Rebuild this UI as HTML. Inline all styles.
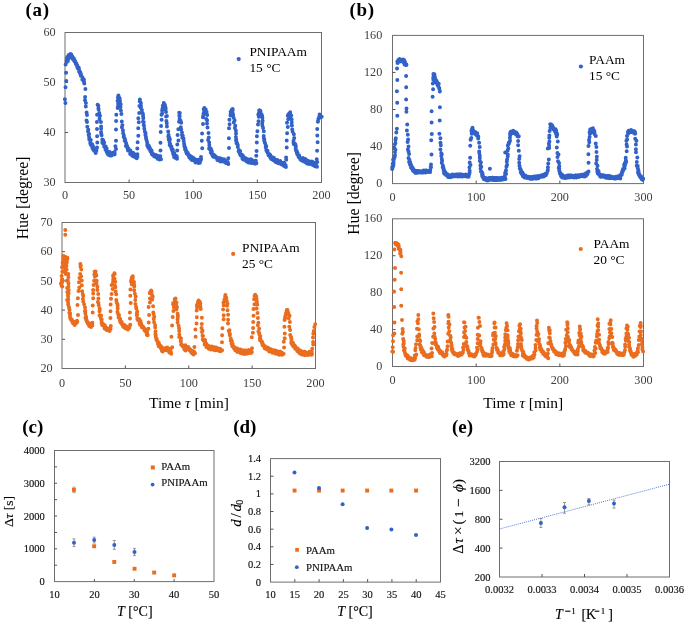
<!DOCTYPE html>
<html><head><meta charset="utf-8"><style>
html,body{margin:0;padding:0;background:#fff;}
svg{display:block;font-family:"Liberation Serif",serif;will-change:transform;}
text{stroke-width:0;}
.b text{stroke-width:0.15px;}
</style></head><body>
<svg width="685" height="624" viewBox="0 0 685 624">
<rect width="685" height="624" fill="#fff"/>
<rect x="65.00" y="32.50" width="256.50" height="150.00" fill="none" stroke="#6e6e6e" stroke-width="1.00"/>
<line x1="65.00" y1="82.50" x2="68.00" y2="82.50" stroke="#555" stroke-width="1.00"/>
<line x1="65.00" y1="132.50" x2="68.00" y2="132.50" stroke="#555" stroke-width="1.00"/>
<line x1="129.12" y1="182.50" x2="129.12" y2="179.50" stroke="#555" stroke-width="1.00"/>
<line x1="193.25" y1="182.50" x2="193.25" y2="179.50" stroke="#555" stroke-width="1.00"/>
<line x1="257.38" y1="182.50" x2="257.38" y2="179.50" stroke="#555" stroke-width="1.00"/>
<text x="55.6" y="36.1" font-size="12.2" text-anchor="end" fill="#404040" stroke="none" >60</text>
<text x="55.6" y="86.1" font-size="12.2" text-anchor="end" fill="#404040" stroke="none" >50</text>
<text x="55.6" y="136.1" font-size="12.2" text-anchor="end" fill="#404040" stroke="none" >40</text>
<text x="55.6" y="186.1" font-size="12.2" text-anchor="end" fill="#404040" stroke="none" >30</text>
<text x="65.0" y="199.3" font-size="12.2" text-anchor="middle" fill="#404040" stroke="none" >0</text>
<text x="129.1" y="199.3" font-size="12.2" text-anchor="middle" fill="#404040" stroke="none" >50</text>
<text x="193.2" y="199.3" font-size="12.2" text-anchor="middle" fill="#404040" stroke="none" >100</text>
<text x="257.4" y="199.3" font-size="12.2" text-anchor="middle" fill="#404040" stroke="none" >150</text>
<text x="321.5" y="199.3" font-size="12.2" text-anchor="middle" fill="#404040" stroke="none" >200</text>
<rect x="62.00" y="222.50" width="253.50" height="146.00" fill="none" stroke="#6e6e6e" stroke-width="1.00"/>
<line x1="62.00" y1="251.70" x2="65.00" y2="251.70" stroke="#555" stroke-width="1.00"/>
<line x1="62.00" y1="280.90" x2="65.00" y2="280.90" stroke="#555" stroke-width="1.00"/>
<line x1="62.00" y1="310.10" x2="65.00" y2="310.10" stroke="#555" stroke-width="1.00"/>
<line x1="62.00" y1="339.30" x2="65.00" y2="339.30" stroke="#555" stroke-width="1.00"/>
<line x1="125.38" y1="368.50" x2="125.38" y2="365.50" stroke="#555" stroke-width="1.00"/>
<line x1="188.75" y1="368.50" x2="188.75" y2="365.50" stroke="#555" stroke-width="1.00"/>
<line x1="252.12" y1="368.50" x2="252.12" y2="365.50" stroke="#555" stroke-width="1.00"/>
<text x="52.6" y="226.1" font-size="12.2" text-anchor="end" fill="#404040" stroke="none" >70</text>
<text x="52.6" y="255.3" font-size="12.2" text-anchor="end" fill="#404040" stroke="none" >60</text>
<text x="52.6" y="284.5" font-size="12.2" text-anchor="end" fill="#404040" stroke="none" >50</text>
<text x="52.6" y="313.7" font-size="12.2" text-anchor="end" fill="#404040" stroke="none" >40</text>
<text x="52.6" y="342.9" font-size="12.2" text-anchor="end" fill="#404040" stroke="none" >30</text>
<text x="52.6" y="372.1" font-size="12.2" text-anchor="end" fill="#404040" stroke="none" >20</text>
<text x="62.0" y="386.6" font-size="12.2" text-anchor="middle" fill="#404040" stroke="none" >0</text>
<text x="125.4" y="386.6" font-size="12.2" text-anchor="middle" fill="#404040" stroke="none" >50</text>
<text x="188.8" y="386.6" font-size="12.2" text-anchor="middle" fill="#404040" stroke="none" >100</text>
<text x="252.1" y="386.6" font-size="12.2" text-anchor="middle" fill="#404040" stroke="none" >150</text>
<text x="315.5" y="386.6" font-size="12.2" text-anchor="middle" fill="#404040" stroke="none" >200</text>
<rect x="392.50" y="35.40" width="251.00" height="148.20" fill="none" stroke="#6e6e6e" stroke-width="1.00"/>
<line x1="392.50" y1="72.45" x2="395.50" y2="72.45" stroke="#555" stroke-width="1.00"/>
<line x1="392.50" y1="109.50" x2="395.50" y2="109.50" stroke="#555" stroke-width="1.00"/>
<line x1="392.50" y1="146.55" x2="395.50" y2="146.55" stroke="#555" stroke-width="1.00"/>
<line x1="476.17" y1="183.60" x2="476.17" y2="180.60" stroke="#555" stroke-width="1.00"/>
<line x1="559.83" y1="183.60" x2="559.83" y2="180.60" stroke="#555" stroke-width="1.00"/>
<text x="382.3" y="39.0" font-size="12.2" text-anchor="end" fill="#404040" stroke="none" >160</text>
<text x="382.3" y="76.0" font-size="12.2" text-anchor="end" fill="#404040" stroke="none" >120</text>
<text x="382.3" y="113.1" font-size="12.2" text-anchor="end" fill="#404040" stroke="none" >80</text>
<text x="382.3" y="150.1" font-size="12.2" text-anchor="end" fill="#404040" stroke="none" >40</text>
<text x="382.3" y="187.2" font-size="12.2" text-anchor="end" fill="#404040" stroke="none" >0</text>
<text x="392.5" y="201.0" font-size="12.2" text-anchor="middle" fill="#404040" stroke="none" >0</text>
<text x="476.2" y="201.0" font-size="12.2" text-anchor="middle" fill="#404040" stroke="none" >100</text>
<text x="559.8" y="201.0" font-size="12.2" text-anchor="middle" fill="#404040" stroke="none" >200</text>
<text x="643.5" y="201.0" font-size="12.2" text-anchor="middle" fill="#404040" stroke="none" >300</text>
<rect x="392.50" y="218.80" width="251.00" height="147.70" fill="none" stroke="#6e6e6e" stroke-width="1.00"/>
<line x1="392.50" y1="255.73" x2="395.50" y2="255.73" stroke="#555" stroke-width="1.00"/>
<line x1="392.50" y1="292.65" x2="395.50" y2="292.65" stroke="#555" stroke-width="1.00"/>
<line x1="392.50" y1="329.57" x2="395.50" y2="329.57" stroke="#555" stroke-width="1.00"/>
<line x1="476.17" y1="366.50" x2="476.17" y2="363.50" stroke="#555" stroke-width="1.00"/>
<line x1="559.83" y1="366.50" x2="559.83" y2="363.50" stroke="#555" stroke-width="1.00"/>
<text x="382.3" y="222.4" font-size="12.2" text-anchor="end" fill="#404040" stroke="none" >160</text>
<text x="382.3" y="259.3" font-size="12.2" text-anchor="end" fill="#404040" stroke="none" >120</text>
<text x="382.3" y="296.2" font-size="12.2" text-anchor="end" fill="#404040" stroke="none" >80</text>
<text x="382.3" y="333.2" font-size="12.2" text-anchor="end" fill="#404040" stroke="none" >40</text>
<text x="382.3" y="370.1" font-size="12.2" text-anchor="end" fill="#404040" stroke="none" >0</text>
<text x="392.5" y="384.0" font-size="12.2" text-anchor="middle" fill="#404040" stroke="none" >0</text>
<text x="476.2" y="384.0" font-size="12.2" text-anchor="middle" fill="#404040" stroke="none" >100</text>
<text x="559.8" y="384.0" font-size="12.2" text-anchor="middle" fill="#404040" stroke="none" >200</text>
<text x="643.5" y="384.0" font-size="12.2" text-anchor="middle" fill="#404040" stroke="none" >300</text>
<path d="M65.4 103.0h0M64.9 99.2h0M65.5 87.2h0M66.3 80.9h0M66.1 72.8h0M65.6 64.6h0M66.8 62.1h0M66.7 60.1h0M66.7 61.2h0M67.9 61.0h0M67.0 57.7h0M68.6 58.2h0M67.9 57.0h0M68.0 56.3h0M68.8 55.1h0M68.8 55.9h0M69.1 54.9h0M69.5 55.5h0M70.5 53.9h0M70.6 55.9h0M71.3 54.6h0M70.5 57.1h0M71.6 55.5h0M72.1 57.0h0M72.3 56.6h0M71.9 57.7h0M73.0 57.9h0M72.8 59.1h0M72.5 58.8h0M73.8 58.2h0M73.2 59.1h0M74.2 59.9h0M74.1 60.7h0M74.6 60.4h0M74.9 61.8h0M75.2 61.4h0M74.9 61.0h0M76.4 63.6h0M75.9 63.9h0M76.4 63.4h0M77.0 66.3h0M77.4 65.8h0M77.3 65.6h0M77.7 68.3h0M77.6 67.6h0M78.8 68.5h0M78.8 67.7h0M79.3 70.6h0M79.5 71.1h0M79.5 71.2h0M79.1 71.6h0M80.1 73.5h0M80.3 72.3h0M80.4 73.8h0M80.9 74.1h0M81.3 75.6h0M80.8 75.8h0M81.3 75.9h0M82.5 77.6h0M82.8 78.9h0M82.3 79.6h0M83.2 80.4h0M82.6 79.0h0M83.9 79.5h0M83.4 80.8h0M84.0 82.4h0M84.0 81.5h0M84.3 83.4h0M85.4 88.9h0M85.1 97.1h0M85.0 100.2h0M85.9 103.0h0M85.8 106.4h0M86.6 112.5h0M87.0 115.0h0M86.5 120.4h0M87.0 122.1h0M87.3 126.7h0M88.3 129.7h0M88.0 131.2h0M89.1 134.1h0M88.6 134.8h0M89.1 136.9h0M89.3 138.1h0M89.3 139.5h0M90.8 140.0h0M90.2 142.7h0M90.5 144.0h0M91.4 145.5h0M91.0 144.7h0M92.2 144.2h0M92.4 144.9h0M92.4 148.0h0M93.1 146.4h0M93.1 149.3h0M93.0 148.6h0M93.1 148.7h0M93.7 150.1h0M93.6 149.0h0M94.1 150.8h0M94.4 150.7h0M95.5 152.1h0M94.9 149.9h0M96.2 151.2h0M95.7 153.0h0M96.4 150.0h0M97.0 147.5h0M97.3 142.4h0M97.1 136.3h0M97.0 129.1h0M96.9 121.9h0M97.1 114.7h0M97.6 104.7h0M98.4 105.8h0M98.4 108.3h0M98.6 109.5h0M99.3 113.1h0M100.0 115.7h0M99.8 116.1h0M99.5 119.0h0M100.9 121.9h0M101.1 126.6h0M101.1 128.6h0M101.1 132.1h0M101.2 134.0h0M101.6 135.2h0M102.3 139.6h0M102.4 141.1h0M103.2 140.3h0M102.4 142.7h0M102.8 143.2h0M104.2 142.6h0M103.6 143.3h0M104.2 146.7h0M104.1 145.3h0M105.2 146.3h0M105.7 146.4h0M106.1 147.7h0M105.5 149.7h0M106.0 148.4h0M106.6 148.4h0M106.0 148.7h0M106.7 151.9h0M107.2 151.3h0M107.0 151.0h0M108.5 153.2h0M107.7 153.9h0M108.6 152.2h0M108.8 154.9h0M109.3 153.9h0M109.4 152.5h0M109.3 152.8h0M109.7 152.1h0M110.2 155.4h0M110.8 154.3h0M110.7 155.4h0M110.9 153.3h0M111.9 153.4h0M111.5 155.6h0M112.1 153.7h0M112.5 154.6h0M112.0 153.3h0M112.4 153.3h0M112.7 154.5h0M113.8 152.6h0M114.3 153.5h0M114.7 154.3h0M114.5 152.9h0M114.2 154.4h0M114.6 152.0h0M116.0 148.9h0M115.4 146.3h0M116.0 140.7h0M116.0 129.4h0M116.1 121.1h0M116.3 114.7h0M117.7 108.1h0M118.0 106.5h0M118.1 103.8h0M117.6 100.8h0M117.9 97.5h0M118.9 97.1h0M118.4 95.5h0M119.7 98.6h0M119.6 98.8h0M119.8 100.9h0M120.0 101.1h0M119.8 102.0h0M120.7 104.3h0M120.5 106.9h0M120.9 110.4h0M121.4 113.9h0M121.8 121.5h0M122.4 125.2h0M121.9 127.2h0M122.9 130.3h0M123.1 133.0h0M123.8 135.2h0M123.8 135.2h0M123.7 137.1h0M124.5 138.1h0M125.2 140.5h0M125.2 140.1h0M124.7 140.8h0M126.1 143.1h0M126.2 143.4h0M125.9 146.0h0M126.9 146.1h0M127.0 145.8h0M127.2 147.4h0M127.9 148.3h0M127.8 149.2h0M127.6 147.6h0M128.4 148.4h0M128.0 150.5h0M129.2 150.8h0M129.2 150.5h0M129.8 150.6h0M130.4 150.5h0M130.2 153.2h0M130.9 151.7h0M130.2 154.1h0M131.4 153.7h0M131.5 153.6h0M132.1 153.1h0M131.7 155.0h0M132.1 154.7h0M132.2 152.9h0M133.3 153.0h0M132.6 155.9h0M133.3 155.0h0M133.4 153.6h0M134.3 154.3h0M133.9 153.7h0M133.9 155.4h0M135.0 156.1h0M134.8 157.0h0M135.5 155.3h0M135.9 155.4h0M136.3 155.5h0M136.8 157.4h0M136.7 158.2h0M137.4 156.7h0M137.4 154.3h0M137.3 148.6h0M137.6 142.2h0M138.3 135.8h0M138.2 128.2h0M138.8 122.3h0M138.3 118.3h0M139.2 113.1h0M139.4 105.9h0M139.7 101.3h0M139.9 99.4h0M140.0 101.5h0M140.9 103.1h0M140.9 105.6h0M141.0 107.3h0M140.8 107.9h0M141.9 109.9h0M142.5 113.1h0M143.0 114.3h0M143.1 116.3h0M143.3 118.3h0M143.0 121.8h0M143.7 121.9h0M143.7 124.9h0M144.0 125.7h0M144.3 128.8h0M144.9 131.8h0M145.6 133.3h0M145.4 135.1h0M145.9 136.9h0M146.1 138.4h0M146.4 139.7h0M147.1 142.0h0M147.3 144.2h0M147.6 145.4h0M147.3 145.5h0M148.0 145.0h0M148.1 147.3h0M148.8 145.7h0M148.6 147.2h0M149.0 146.5h0M149.2 149.0h0M149.8 148.4h0M149.9 148.0h0M150.4 151.2h0M150.7 150.1h0M150.4 151.2h0M151.6 150.6h0M150.8 151.3h0M151.7 153.4h0M152.0 152.7h0M151.8 154.0h0M152.9 154.0h0M152.6 154.8h0M152.8 154.4h0M153.0 154.4h0M154.3 155.4h0M153.7 154.2h0M154.6 156.4h0M154.1 156.3h0M155.1 156.7h0M155.2 155.1h0M155.9 156.8h0M156.0 155.2h0M156.8 155.4h0M157.0 156.5h0M156.9 157.6h0M157.1 156.4h0M156.9 156.2h0M157.5 158.3h0M157.6 158.7h0M158.6 158.9h0M158.1 157.3h0M158.9 157.6h0M158.8 156.5h0M159.6 156.3h0M159.4 159.6h0M160.3 156.2h0M161.0 159.3h0M160.5 150.4h0M160.5 142.8h0M160.7 132.1h0M161.1 125.9h0M161.6 119.8h0M161.5 114.8h0M162.1 113.4h0M162.1 110.5h0M162.5 108.4h0M163.6 105.7h0M162.8 105.7h0M164.1 104.6h0M163.8 103.0h0M164.8 104.8h0M165.1 105.4h0M164.4 107.4h0M164.5 108.9h0M165.7 107.9h0M165.6 109.3h0M166.0 111.9h0M166.9 116.0h0M166.1 116.5h0M166.4 121.0h0M166.8 123.3h0M166.9 126.5h0M168.2 131.4h0M168.6 135.0h0M168.3 136.4h0M169.4 137.8h0M168.7 139.4h0M169.9 139.4h0M169.5 142.2h0M170.1 143.8h0M169.7 145.1h0M170.5 146.1h0M171.4 146.6h0M171.4 147.9h0M171.8 149.4h0M172.1 150.1h0M172.7 149.5h0M172.9 149.9h0M173.1 152.6h0M172.4 151.1h0M173.2 153.9h0M174.2 153.3h0M173.9 153.1h0M173.7 154.9h0M174.7 155.3h0M174.1 157.1h0M174.5 156.3h0M174.8 157.5h0M175.5 155.4h0M175.7 157.9h0M176.7 156.3h0M177.0 158.7h0M176.8 157.3h0M177.2 150.4h0M177.3 144.5h0M178.4 140.5h0M177.6 135.1h0M178.3 129.3h0M179.0 121.8h0M179.2 112.7h0M179.8 112.9h0M179.3 115.7h0M179.7 116.2h0M179.6 119.1h0M180.6 120.8h0M181.2 122.8h0M180.8 127.2h0M181.2 129.4h0M182.0 132.4h0M182.0 135.1h0M182.8 135.8h0M182.3 137.7h0M183.5 138.6h0M183.7 141.1h0M184.1 143.7h0M184.3 144.9h0M184.5 146.7h0M184.4 146.0h0M185.3 147.8h0M185.2 149.0h0M185.1 149.5h0M185.8 150.6h0M185.8 149.7h0M186.2 151.9h0M186.0 150.2h0M186.9 152.3h0M186.7 153.5h0M187.7 152.7h0M187.1 152.3h0M187.7 154.3h0M188.0 153.7h0M188.6 155.7h0M188.3 154.8h0M189.4 157.5h0M190.0 155.8h0M189.6 155.4h0M190.4 158.4h0M190.9 156.6h0M191.2 157.8h0M190.9 159.0h0M191.3 158.4h0M192.0 159.4h0M192.3 158.9h0M191.9 159.9h0M192.8 157.4h0M192.8 159.5h0M192.9 158.7h0M193.8 160.1h0M193.1 159.3h0M193.9 160.3h0M194.0 158.4h0M193.9 160.4h0M194.6 159.3h0M195.5 162.0h0M195.5 162.4h0M195.8 160.9h0M196.1 160.8h0M197.0 161.9h0M196.8 160.4h0M196.7 160.1h0M197.4 160.9h0M198.2 161.1h0M198.1 159.7h0M198.5 162.9h0M198.3 161.3h0M199.3 160.7h0M199.3 162.6h0M199.9 162.7h0M199.5 162.5h0M200.4 161.1h0M200.6 160.5h0M200.4 160.4h0M200.4 159.9h0M201.1 159.2h0M201.0 157.0h0M202.2 148.2h0M201.8 140.8h0M202.1 133.4h0M203.0 124.1h0M202.9 117.2h0M203.3 115.5h0M203.6 113.5h0M204.2 112.3h0M203.7 109.2h0M204.1 111.2h0M204.4 108.0h0M205.7 109.4h0M205.7 109.9h0M205.1 111.8h0M206.6 111.9h0M206.3 113.1h0M207.2 115.0h0M206.3 118.9h0M207.1 120.3h0M207.0 123.5h0M207.5 127.6h0M208.5 133.1h0M208.8 137.5h0M208.1 140.1h0M209.2 142.4h0M209.3 145.2h0M209.1 148.4h0M209.4 149.0h0M210.7 148.5h0M210.5 148.7h0M211.3 150.1h0M210.8 152.4h0M211.9 151.8h0M211.3 152.7h0M211.8 154.0h0M211.6 154.0h0M212.8 156.0h0M213.5 156.1h0M213.2 154.4h0M213.8 155.2h0M213.4 156.8h0M214.3 155.3h0M213.9 156.0h0M214.8 155.7h0M215.6 157.2h0M215.4 157.3h0M215.5 156.4h0M216.1 157.1h0M215.8 157.4h0M216.4 158.0h0M216.9 158.2h0M217.6 158.0h0M217.4 160.0h0M217.4 157.8h0M218.2 160.1h0M218.8 160.6h0M218.6 158.9h0M218.4 159.1h0M218.9 158.4h0M219.5 158.3h0M219.9 160.6h0M219.7 160.6h0M220.5 159.0h0M220.6 161.5h0M220.3 158.4h0M221.4 159.6h0M221.2 158.8h0M222.5 161.1h0M222.3 159.9h0M221.8 160.6h0M222.3 160.0h0M223.4 159.8h0M222.8 161.4h0M224.0 159.3h0M223.7 159.5h0M223.7 160.2h0M224.1 159.4h0M225.4 160.8h0M224.8 161.7h0M225.2 162.0h0M225.5 161.4h0M225.9 163.1h0M226.6 162.6h0M226.8 162.9h0M226.8 163.0h0M227.4 162.4h0M227.7 162.1h0M227.7 162.5h0M228.3 163.9h0M227.9 163.1h0M228.3 158.3h0M229.0 148.0h0M228.9 138.2h0M229.0 128.3h0M229.6 124.2h0M229.4 119.8h0M230.5 115.6h0M230.6 114.4h0M231.2 113.7h0M230.6 111.8h0M231.7 110.0h0M232.3 109.3h0M232.6 109.1h0M232.8 109.7h0M232.5 112.4h0M232.5 113.6h0M233.1 114.6h0M233.1 114.9h0M233.6 117.7h0M234.6 120.2h0M233.8 122.5h0M235.3 125.7h0M234.9 128.0h0M235.9 130.8h0M236.0 133.6h0M235.9 136.9h0M236.2 139.4h0M236.0 140.1h0M236.3 141.2h0M236.5 143.3h0M237.0 143.1h0M237.8 144.9h0M237.8 146.9h0M238.9 150.0h0M239.1 150.2h0M238.6 151.2h0M238.9 151.8h0M239.4 151.7h0M240.2 151.2h0M239.9 153.9h0M240.3 154.4h0M241.4 154.4h0M240.5 155.3h0M241.2 154.9h0M242.1 155.1h0M242.2 156.2h0M242.3 157.3h0M242.8 155.6h0M242.4 158.6h0M243.2 158.0h0M243.8 157.2h0M243.1 159.5h0M243.9 159.5h0M243.9 159.5h0M244.1 159.3h0M245.6 158.3h0M245.6 159.6h0M245.5 159.2h0M246.2 159.5h0M245.8 160.5h0M246.5 159.8h0M247.3 160.5h0M246.6 161.5h0M246.9 160.1h0M247.1 158.9h0M248.3 159.5h0M248.7 161.3h0M248.1 160.0h0M249.3 162.6h0M248.5 162.5h0M249.6 160.5h0M250.3 161.8h0M249.9 161.2h0M250.8 159.2h0M251.2 162.9h0M250.8 161.8h0M251.6 160.2h0M252.2 162.9h0M252.0 160.1h0M252.1 161.4h0M253.0 162.5h0M253.0 162.3h0M253.3 162.2h0M253.0 161.7h0M253.2 162.6h0M253.8 162.2h0M254.5 161.9h0M255.2 161.7h0M254.2 161.2h0M254.9 163.7h0M255.4 161.9h0M256.4 163.2h0M255.8 160.7h0M256.3 155.8h0M256.6 150.9h0M256.8 142.6h0M256.9 136.3h0M257.4 131.3h0M258.0 124.6h0M258.5 121.2h0M258.8 116.8h0M258.3 114.6h0M258.9 112.9h0M259.3 111.4h0M259.2 110.6h0M259.6 110.6h0M260.3 111.8h0M260.5 110.9h0M261.0 113.8h0M261.0 114.2h0M261.6 114.5h0M262.2 115.9h0M262.4 118.0h0M262.6 120.9h0M262.2 123.5h0M262.4 125.8h0M263.1 128.1h0M263.8 131.2h0M263.7 135.9h0M263.8 138.2h0M264.3 139.3h0M264.2 140.4h0M264.7 142.6h0M265.1 143.2h0M265.8 145.6h0M266.3 146.6h0M265.7 147.2h0M266.3 150.1h0M267.5 150.8h0M266.6 150.9h0M267.6 152.1h0M267.4 151.0h0M267.6 152.4h0M268.6 154.1h0M268.5 154.4h0M268.5 155.3h0M268.9 155.3h0M269.1 153.9h0M270.2 155.1h0M270.1 156.2h0M270.2 157.3h0M271.0 157.6h0M271.1 158.7h0M272.0 158.7h0M271.6 158.7h0M271.4 157.3h0M271.8 159.3h0M272.5 158.7h0M272.5 157.3h0M273.2 160.0h0M274.0 160.5h0M274.0 158.1h0M274.0 158.2h0M275.0 159.7h0M274.3 160.4h0M275.0 160.3h0M275.1 159.6h0M276.2 162.0h0M275.3 161.7h0M276.1 162.3h0M276.0 162.1h0M277.3 159.9h0M276.5 160.4h0M278.0 161.3h0M277.5 162.6h0M278.4 163.2h0M278.5 162.8h0M279.1 161.4h0M279.4 161.8h0M279.7 162.2h0M279.4 162.0h0M279.5 162.5h0M280.2 161.1h0M280.1 163.6h0M281.1 163.8h0M280.9 163.6h0M281.7 164.5h0M281.1 163.1h0M281.2 163.2h0M282.0 164.4h0M282.5 162.9h0M282.9 164.0h0M283.2 163.7h0M283.3 165.1h0M284.1 164.1h0M283.5 162.7h0M283.9 164.0h0M284.1 166.0h0M284.6 163.7h0M285.6 165.2h0M285.9 167.0h0M285.2 165.1h0M286.2 159.8h0M286.1 157.6h0M286.7 147.5h0M286.7 140.4h0M287.1 133.2h0M287.8 127.1h0M287.0 122.7h0M288.2 119.2h0M287.8 115.7h0M288.4 114.5h0M288.5 115.0h0M289.7 114.6h0M288.8 114.1h0M290.2 112.3h0M289.5 113.6h0M290.1 113.6h0M290.0 115.4h0M291.2 115.4h0M290.6 117.9h0M291.7 119.5h0M291.7 122.5h0M291.7 125.2h0M291.9 125.5h0M292.2 129.5h0M292.6 131.8h0M293.9 134.3h0M294.2 137.9h0M293.5 140.8h0M293.5 142.7h0M293.9 144.2h0M294.8 143.7h0M295.4 144.4h0M295.8 146.0h0M295.7 147.2h0M295.7 149.0h0M296.1 150.8h0M296.8 151.1h0M296.5 151.2h0M296.9 153.1h0M297.4 154.4h0M297.1 153.7h0M297.6 153.1h0M298.6 155.3h0M298.6 156.9h0M298.8 156.8h0M299.2 155.6h0M300.0 158.0h0M300.3 159.3h0M300.2 158.4h0M300.4 158.4h0M300.9 159.1h0M301.0 159.9h0M301.8 158.7h0M301.7 159.6h0M302.4 159.4h0M302.0 159.7h0M302.7 158.8h0M302.8 158.1h0M302.8 161.1h0M303.7 159.8h0M304.0 161.5h0M303.9 160.7h0M304.6 160.2h0M305.0 160.1h0M305.3 159.1h0M305.0 161.7h0M305.4 159.5h0M306.3 161.5h0M305.8 162.6h0M306.0 160.2h0M307.0 163.4h0M307.3 160.5h0M307.5 163.6h0M308.3 161.1h0M307.6 162.9h0M308.3 163.2h0M308.4 162.6h0M308.8 161.7h0M309.1 162.6h0M308.9 163.9h0M310.4 161.7h0M310.2 163.2h0M310.0 163.4h0M310.3 162.7h0M311.6 161.9h0M311.8 164.1h0M311.8 161.6h0M311.9 162.8h0M311.6 164.2h0M312.5 163.2h0M312.8 165.1h0M313.2 163.2h0M313.1 164.2h0M313.4 164.2h0M313.7 162.4h0M314.3 162.8h0M315.1 164.4h0M315.2 165.4h0M314.9 166.3h0M315.1 164.4h0M315.8 163.6h0M315.6 165.2h0M317.0 166.7h0M316.0 164.0h0M317.3 161.9h0M316.7 159.3h0M317.1 150.7h0M317.6 142.2h0M317.3 135.6h0M317.2 129.1h0M317.9 121.8h0M318.1 121.1h0M318.4 118.7h0M318.7 118.6h0M319.3 116.7h0M319.5 115.8h0M319.6 114.6h0M320.6 116.6h0M320.1 115.1h0M320.3 117.3h0M321.7 116.8h0" stroke="#3261C8" stroke-width="4.00" stroke-linecap="round" fill="none"/>
<path d="M61.6 285.7h0M61.9 279.4h0M61.6 276.0h0M62.3 271.8h0M62.0 267.2h0M62.6 262.4h0M63.7 260.2h0M63.4 260.1h0M63.4 258.0h0M63.3 255.9h0M64.0 257.2h0M65.1 256.7h0M64.9 257.1h0M64.5 259.0h0M65.0 262.4h0M66.4 266.0h0M65.6 272.2h0M66.8 280.7h0M67.2 288.0h0M67.3 292.0h0M67.9 295.1h0M67.1 299.9h0M68.1 302.4h0M68.2 304.7h0M69.0 307.3h0M69.2 308.8h0M69.6 309.9h0M69.3 312.8h0M70.2 313.5h0M69.9 315.4h0M70.0 315.6h0M70.1 317.7h0M70.6 318.9h0M70.9 319.5h0M71.7 320.2h0M71.8 319.5h0M72.2 320.5h0M72.0 320.2h0M73.2 321.4h0M72.4 322.1h0M73.6 323.0h0M73.2 323.6h0M73.3 323.4h0M73.9 323.4h0M75.0 322.4h0M74.8 322.3h0M74.7 325.0h0M75.9 323.1h0M75.9 323.6h0M75.8 322.1h0M76.5 322.4h0M77.2 321.9h0M77.2 321.5h0M76.8 321.3h0M77.0 320.8h0M78.0 315.0h0M77.5 305.0h0M77.9 298.3h0M78.5 291.1h0M79.3 287.4h0M79.0 282.3h0M79.5 278.1h0M80.2 274.0h0M80.5 266.8h0M80.7 265.5h0M80.4 263.9h0M80.8 265.9h0M81.3 269.5h0M81.2 276.2h0M81.8 280.4h0M81.8 285.3h0M82.2 291.3h0M82.8 294.2h0M83.2 295.8h0M82.9 299.1h0M83.3 301.8h0M84.2 304.5h0M85.0 307.6h0M85.3 310.8h0M84.9 311.3h0M85.4 313.4h0M86.0 316.5h0M85.5 317.9h0M86.2 318.1h0M85.8 317.9h0M86.2 319.8h0M86.7 321.6h0M86.9 320.8h0M87.3 322.1h0M87.9 323.7h0M88.4 323.5h0M89.1 323.2h0M89.2 326.0h0M89.2 324.2h0M88.9 324.9h0M89.8 324.4h0M89.5 323.7h0M90.2 326.0h0M91.2 325.1h0M90.7 325.6h0M91.1 327.0h0M91.8 323.6h0M91.6 323.5h0M92.4 325.5h0M92.4 322.7h0M92.7 312.6h0M92.7 305.4h0M93.2 298.2h0M93.2 293.4h0M93.1 289.9h0M93.6 285.1h0M94.1 280.7h0M94.9 276.7h0M94.4 274.5h0M94.6 271.7h0M95.6 271.4h0M96.0 274.4h0M96.3 275.6h0M96.7 280.8h0M96.5 283.5h0M97.4 286.8h0M97.3 290.0h0M98.2 294.0h0M98.4 298.4h0M97.9 302.1h0M98.4 303.0h0M98.7 305.2h0M99.6 308.4h0M99.8 310.3h0M99.5 311.3h0M99.5 315.6h0M99.7 315.3h0M101.1 315.6h0M101.1 319.2h0M100.9 318.2h0M101.7 319.6h0M101.7 322.0h0M101.5 322.8h0M103.0 324.0h0M102.1 325.1h0M103.2 324.8h0M103.8 324.4h0M103.8 325.3h0M104.5 325.5h0M104.3 327.0h0M104.4 325.5h0M104.9 325.5h0M104.6 328.4h0M105.3 327.6h0M105.9 327.7h0M106.2 329.6h0M106.9 328.5h0M106.9 328.0h0M107.2 329.3h0M106.8 330.1h0M107.3 329.3h0M108.4 329.5h0M107.4 329.5h0M108.6 329.0h0M108.9 330.6h0M108.3 330.4h0M109.6 330.9h0M110.1 329.8h0M109.3 330.2h0M110.5 328.9h0M110.8 326.1h0M110.4 318.0h0M110.5 311.3h0M110.6 304.6h0M111.0 298.8h0M111.6 294.1h0M112.6 289.0h0M111.6 284.9h0M113.0 282.1h0M113.2 279.7h0M113.4 278.0h0M113.2 276.3h0M113.1 275.5h0M114.4 273.2h0M114.7 274.0h0M114.5 278.8h0M115.3 281.8h0M114.8 285.6h0M115.4 287.3h0M115.6 291.6h0M116.2 294.2h0M116.3 300.0h0M116.6 302.3h0M117.5 304.2h0M117.6 306.1h0M117.7 308.6h0M117.4 311.8h0M118.0 313.7h0M119.0 315.0h0M118.7 316.1h0M118.6 317.6h0M119.3 318.1h0M120.2 318.9h0M120.2 320.7h0M120.0 320.4h0M120.3 321.9h0M121.6 322.2h0M121.7 322.0h0M121.4 323.1h0M121.3 323.2h0M121.7 324.0h0M122.2 324.2h0M123.3 325.9h0M123.2 324.8h0M123.1 326.6h0M123.3 324.4h0M124.2 324.9h0M124.1 325.8h0M124.2 327.4h0M125.0 327.7h0M125.6 326.4h0M126.0 326.3h0M125.8 328.5h0M126.7 327.8h0M126.7 328.1h0M127.2 328.6h0M127.6 328.4h0M127.4 326.9h0M127.4 328.3h0M127.4 327.5h0M128.0 329.5h0M129.0 328.0h0M129.4 327.1h0M128.4 327.0h0M129.2 327.9h0M130.2 324.7h0M130.0 318.6h0M129.9 312.6h0M130.7 302.9h0M130.3 295.8h0M130.4 289.6h0M131.7 284.3h0M131.0 281.5h0M131.4 279.5h0M131.7 278.1h0M132.0 277.2h0M132.8 276.2h0M132.8 277.9h0M132.7 281.2h0M134.0 281.9h0M134.2 284.9h0M134.2 286.4h0M134.2 290.3h0M134.9 293.7h0M135.7 296.4h0M135.3 300.0h0M135.4 304.1h0M136.1 307.0h0M136.3 308.5h0M137.2 311.6h0M136.8 313.4h0M137.2 314.5h0M136.9 315.5h0M137.3 318.8h0M138.3 319.3h0M137.8 320.0h0M139.1 319.0h0M138.4 318.9h0M138.8 320.5h0M139.8 320.6h0M140.5 321.2h0M139.6 323.4h0M140.1 324.8h0M140.8 324.2h0M141.1 323.6h0M141.0 323.7h0M142.1 326.7h0M142.2 325.9h0M141.8 327.3h0M142.1 326.6h0M142.3 325.9h0M142.6 326.6h0M143.3 327.0h0M144.2 328.6h0M144.3 329.8h0M144.9 329.1h0M144.1 328.5h0M145.1 330.9h0M145.1 329.5h0M145.5 330.3h0M145.7 331.1h0M146.6 332.6h0M146.4 332.4h0M147.1 332.0h0M146.7 334.6h0M147.6 334.4h0M147.0 334.9h0M147.6 335.2h0M148.4 328.8h0M148.7 322.4h0M149.1 315.1h0M148.6 307.0h0M149.9 302.4h0M149.9 298.6h0M149.7 293.1h0M150.5 292.1h0M150.2 292.0h0M151.6 291.8h0M151.2 290.6h0M151.2 291.6h0M152.1 295.3h0M152.7 296.4h0M152.3 299.4h0M153.1 306.3h0M153.3 312.4h0M153.6 314.0h0M154.2 316.7h0M153.7 319.0h0M154.1 322.3h0M155.1 325.2h0M155.2 327.5h0M155.5 331.6h0M155.4 333.9h0M155.7 334.9h0M155.7 336.0h0M156.0 337.8h0M156.8 339.1h0M156.5 340.0h0M157.7 341.8h0M157.7 341.4h0M158.4 343.2h0M157.9 343.8h0M158.9 343.1h0M158.1 344.0h0M158.7 346.2h0M159.1 345.2h0M160.0 345.6h0M159.9 346.2h0M160.7 346.8h0M160.7 345.9h0M160.4 346.6h0M161.0 348.4h0M161.6 347.1h0M162.0 350.0h0M162.5 349.1h0M161.9 350.7h0M163.3 349.2h0M162.6 351.4h0M163.8 350.5h0M163.8 350.0h0M163.5 349.7h0M163.6 348.5h0M164.0 350.0h0M164.6 349.8h0M165.7 349.0h0M165.3 348.7h0M165.3 348.6h0M166.0 348.0h0M165.7 349.9h0M166.8 350.2h0M167.1 347.5h0M167.2 348.8h0M167.5 348.1h0M168.1 349.6h0M168.3 350.0h0M168.0 350.7h0M168.6 348.6h0M168.5 349.1h0M169.3 350.0h0M169.8 351.1h0M169.3 352.4h0M169.6 351.3h0M170.4 352.0h0M170.5 350.6h0M171.0 352.5h0M171.2 353.7h0M172.2 347.3h0M171.4 336.7h0M172.1 325.6h0M172.7 317.0h0M173.4 310.9h0M173.8 307.2h0M173.2 303.0h0M173.1 304.2h0M174.7 302.9h0M174.8 302.0h0M174.7 299.4h0M174.9 299.9h0M175.6 298.4h0M175.0 298.7h0M176.5 302.5h0M176.4 305.8h0M177.0 307.3h0M176.4 309.4h0M177.6 313.8h0M177.9 315.4h0M177.8 317.2h0M177.6 319.6h0M177.6 322.4h0M178.6 325.7h0M179.1 328.4h0M179.2 330.9h0M179.3 334.5h0M179.3 337.0h0M180.0 337.2h0M181.0 338.6h0M180.7 340.6h0M180.9 341.8h0M181.7 344.6h0M181.1 344.6h0M181.4 344.9h0M181.5 344.8h0M183.1 346.3h0M182.9 346.6h0M183.0 346.0h0M183.3 347.1h0M183.3 347.0h0M184.6 348.9h0M184.4 349.6h0M184.3 347.8h0M185.5 350.6h0M185.3 345.3h0M185.1 346.1h0M185.6 346.4h0M186.0 347.2h0M186.4 346.9h0M186.6 346.8h0M187.3 348.4h0M187.3 347.1h0M187.9 348.9h0M188.5 348.4h0M188.3 347.1h0M188.4 348.9h0M189.4 350.3h0M189.2 348.8h0M189.6 350.3h0M190.1 349.3h0M189.5 349.6h0M190.5 350.9h0M190.6 350.4h0M191.3 352.5h0M191.7 351.0h0M191.3 351.8h0M192.1 352.3h0M192.3 353.4h0M192.2 353.0h0M192.6 351.1h0M193.5 351.5h0M193.4 352.5h0M193.1 353.9h0M193.6 354.4h0M194.3 352.0h0M195.0 353.2h0M194.2 353.5h0M194.4 347.0h0M195.6 336.7h0M195.4 329.5h0M196.5 323.5h0M196.8 317.2h0M196.7 310.4h0M197.0 307.2h0M196.9 305.3h0M197.5 305.3h0M197.7 303.4h0M198.1 301.5h0M198.0 302.3h0M199.3 303.0h0M198.6 300.6h0M199.6 302.5h0M199.7 301.8h0M200.3 303.3h0M200.2 305.5h0M200.3 305.8h0M200.6 308.0h0M200.7 309.1h0M201.9 317.7h0M201.8 324.1h0M201.5 328.0h0M202.5 330.6h0M202.0 332.0h0M202.5 335.7h0M203.0 336.1h0M202.8 339.5h0M203.5 340.6h0M204.0 340.5h0M205.0 340.0h0M205.1 340.9h0M204.9 343.6h0M204.7 344.5h0M205.5 343.1h0M206.3 343.7h0M206.6 345.3h0M205.8 344.7h0M206.4 346.9h0M206.6 345.5h0M207.3 346.3h0M207.1 345.2h0M208.3 345.9h0M207.9 345.5h0M208.7 347.2h0M209.1 348.0h0M208.7 348.4h0M208.8 348.8h0M209.2 346.2h0M210.1 348.7h0M211.0 349.3h0M210.8 349.4h0M211.6 347.3h0M210.9 348.8h0M210.9 348.2h0M212.0 346.4h0M212.6 349.0h0M212.0 349.2h0M213.4 349.2h0M213.0 349.0h0M212.8 347.7h0M214.3 349.0h0M214.4 347.2h0M214.1 350.1h0M214.1 350.0h0M214.9 348.1h0M215.2 350.3h0M216.0 347.5h0M216.1 349.3h0M215.8 348.2h0M215.9 347.8h0M216.5 349.1h0M217.4 350.0h0M217.8 348.9h0M217.4 350.1h0M218.5 348.5h0M217.6 350.3h0M218.3 350.4h0M219.1 349.6h0M218.8 348.9h0M219.9 350.1h0M220.1 348.7h0M219.5 351.0h0M220.4 350.9h0M220.6 351.2h0M220.9 350.1h0M221.1 350.0h0M220.9 350.7h0M221.6 350.2h0M222.1 350.2h0M222.0 342.2h0M222.1 335.2h0M222.4 328.2h0M223.6 319.3h0M223.7 315.2h0M223.1 309.4h0M223.6 305.2h0M223.5 302.5h0M224.7 299.5h0M224.4 299.5h0M225.4 296.4h0M225.1 296.5h0M225.4 295.0h0M225.6 296.4h0M226.3 297.8h0M226.3 300.7h0M226.8 301.2h0M227.5 303.8h0M227.0 305.7h0M227.5 310.3h0M228.1 314.8h0M228.1 319.7h0M228.0 323.6h0M229.5 330.3h0M228.7 330.8h0M229.6 333.5h0M230.0 334.3h0M229.8 335.2h0M230.8 338.6h0M230.7 340.5h0M231.6 341.4h0M231.9 341.1h0M231.1 341.0h0M231.5 343.7h0M232.6 343.8h0M232.2 345.1h0M232.3 346.3h0M233.7 346.6h0M233.2 346.8h0M234.1 348.5h0M234.6 348.2h0M234.5 348.9h0M234.7 348.9h0M234.7 347.4h0M234.6 347.7h0M235.4 349.1h0M235.3 350.3h0M235.8 350.2h0M236.2 349.1h0M237.0 351.4h0M236.6 350.0h0M237.2 348.6h0M237.6 352.0h0M238.5 351.0h0M238.0 348.9h0M238.2 350.3h0M239.1 350.3h0M239.4 349.5h0M239.7 350.2h0M240.1 349.9h0M240.5 350.8h0M240.5 352.9h0M240.5 349.6h0M241.2 353.1h0M241.2 352.4h0M242.1 353.2h0M242.0 352.1h0M241.5 350.4h0M242.8 350.9h0M243.1 353.2h0M242.4 353.5h0M243.0 350.6h0M243.8 350.6h0M244.5 353.9h0M244.5 351.1h0M244.8 353.1h0M244.5 352.1h0M245.7 353.7h0M245.5 353.0h0M245.5 350.5h0M245.7 351.2h0M246.6 351.0h0M246.2 352.7h0M246.3 353.4h0M247.4 353.6h0M247.3 352.4h0M248.4 352.5h0M247.7 350.6h0M248.1 352.7h0M248.7 350.1h0M248.7 350.4h0M248.8 350.7h0M249.7 352.6h0M249.7 351.9h0M250.9 352.3h0M250.0 353.0h0M250.3 351.1h0M251.4 352.0h0M251.3 352.7h0M251.9 352.0h0M252.0 348.3h0M251.8 337.3h0M252.9 332.7h0M253.1 328.0h0M253.2 322.1h0M253.5 315.7h0M253.5 309.0h0M254.4 304.3h0M254.1 299.2h0M254.5 296.1h0M255.2 294.8h0M255.1 296.6h0M256.2 296.3h0M255.5 297.5h0M256.6 299.1h0M256.9 301.8h0M257.3 304.4h0M256.6 308.5h0M257.5 312.9h0M257.9 318.0h0M258.4 322.8h0M257.9 325.3h0M259.2 328.7h0M258.4 331.5h0M259.3 333.2h0M259.3 334.2h0M260.3 336.3h0M259.9 337.8h0M259.9 339.2h0M260.1 340.6h0M260.5 339.3h0M262.0 341.7h0M261.9 341.8h0M262.4 342.7h0M262.7 344.4h0M262.0 343.1h0M262.6 345.3h0M263.6 345.5h0M263.1 344.4h0M264.2 345.7h0M264.7 347.5h0M264.5 345.9h0M264.5 348.0h0M264.6 347.4h0M265.2 348.4h0M265.8 347.5h0M266.3 347.2h0M266.1 347.8h0M266.7 348.9h0M267.3 349.1h0M266.9 349.6h0M267.8 349.3h0M267.9 347.7h0M267.8 349.4h0M268.0 348.3h0M269.1 350.6h0M269.2 351.6h0M269.6 351.5h0M269.7 349.0h0M270.1 351.6h0M270.3 349.6h0M270.3 350.1h0M270.9 351.4h0M271.1 349.4h0M270.9 349.3h0M272.1 352.1h0M272.2 350.2h0M272.2 350.0h0M271.9 350.7h0M272.8 351.1h0M272.5 352.7h0M272.7 350.8h0M273.4 350.6h0M274.5 352.8h0M274.2 350.8h0M274.5 352.0h0M275.5 353.6h0M275.0 350.5h0M275.7 352.3h0M276.2 352.4h0M276.0 351.0h0M275.9 353.7h0M276.8 351.4h0M277.0 351.3h0M276.8 351.3h0M277.9 352.1h0M278.0 353.2h0M278.0 353.3h0M278.6 354.6h0M278.2 353.4h0M279.2 352.1h0M279.6 354.7h0M280.1 351.5h0M280.1 352.1h0M279.7 352.1h0M280.5 354.3h0M281.1 353.7h0M281.0 353.7h0M281.5 352.8h0M281.4 352.5h0M281.9 354.7h0M282.6 354.4h0M283.0 353.5h0M282.3 353.1h0M283.6 353.8h0M284.1 347.5h0M283.8 341.7h0M284.7 338.2h0M284.8 333.4h0M284.4 326.8h0M284.6 320.1h0M285.0 318.3h0M285.1 316.8h0M285.8 314.4h0M286.0 312.9h0M286.8 310.1h0M287.4 310.1h0M286.8 311.1h0M287.5 309.9h0M287.4 311.9h0M288.1 312.5h0M288.4 313.8h0M288.5 314.6h0M289.6 315.7h0M288.7 318.3h0M289.9 322.0h0M289.3 326.7h0M290.1 330.0h0M290.2 335.0h0M291.2 338.1h0M291.1 337.1h0M291.5 339.7h0M291.3 341.9h0M291.3 343.0h0M291.9 344.3h0M293.0 342.7h0M293.1 345.9h0M293.0 345.8h0M293.7 344.6h0M293.5 346.6h0M293.8 345.8h0M294.8 345.8h0M294.0 345.5h0M295.3 346.4h0M295.6 347.9h0M296.1 348.7h0M295.2 348.8h0M296.0 347.6h0M296.2 347.9h0M297.4 348.6h0M297.3 351.0h0M297.2 349.5h0M297.6 348.6h0M298.0 349.1h0M298.1 351.5h0M299.0 351.3h0M298.8 352.2h0M299.7 350.3h0M299.2 351.3h0M300.2 352.2h0M299.9 353.4h0M300.0 351.3h0M300.3 351.6h0M301.1 353.8h0M300.7 350.9h0M302.2 351.5h0M302.3 352.1h0M301.8 351.8h0M301.9 354.5h0M302.8 352.9h0M303.4 352.4h0M303.0 354.4h0M303.6 352.5h0M304.1 353.2h0M304.0 354.3h0M304.5 355.0h0M304.8 351.8h0M304.7 353.7h0M305.6 355.0h0M305.5 353.8h0M305.8 352.3h0M306.6 354.3h0M306.0 354.5h0M307.2 354.8h0M307.3 354.5h0M308.2 355.1h0M307.8 354.1h0M308.6 353.9h0M308.8 354.4h0M308.9 353.0h0M309.2 352.7h0M309.4 351.8h0M310.2 354.6h0M310.5 353.7h0M309.6 352.5h0M310.4 353.9h0M311.0 353.3h0M311.6 354.7h0M311.6 353.0h0M312.0 354.2h0M312.0 354.1h0M311.7 351.8h0M312.2 348.8h0M313.2 344.4h0M313.1 342.0h0M313.0 337.4h0M313.3 333.8h0M313.8 331.0h0M314.4 326.9h0M315.2 324.3h0M65.3 229.9h0M65.3 234.7h0M64.5 259.7h0M65.9 258.3h0M65.4 263.6h0M63.3 266.1h0M63.2 264.8h0M63.3 258.6h0M64.9 271.9h0M63.6 261.0h0M65.8 274.1h0M65.6 264.1h0M67.4 257.8h0M66.9 262.2h0M63.6 259.1h0M64.4 271.7h0M63.8 267.5h0M65.9 263.7h0M65.5 258.1h0M63.3 260.7h0M66.1 264.7h0M64.4 267.5h0M65.0 262.4h0M66.6 269.6h0M64.1 267.3h0M65.4 272.8h0M66.3 262.2h0M67.4 259.1h0M64.9 270.6h0M63.7 265.8h0M60.9 283.4h0M62.2 282.3h0M62.4 279.5h0M62.1 282.5h0M61.8 281.0h0M62.3 286.4h0M68.3 274.0h0M68.4 277.2h0M67.9 280.4h0M68.5 283.6h0M68.4 286.8h0M68.7 290.0h0M68.6 293.2h0M68.1 296.4h0M68.2 299.6h0" stroke="#EA6D1F" stroke-width="4.00" stroke-linecap="round" fill="none"/>
<path d="M392.2 167.1h0M392.2 168.9h0M392.4 168.3h0M392.2 167.1h0M393.3 166.0h0M393.4 164.6h0M392.7 163.8h0M393.6 162.4h0M393.1 159.7h0M393.9 159.3h0M394.7 157.1h0M395.0 155.2h0M395.0 152.0h0M395.4 149.7h0M394.5 148.3h0M394.9 144.3h0M395.4 143.2h0M395.5 140.0h0M395.8 138.3h0M396.3 132.4h0M396.9 128.7h0M397.3 115.7h0M397.2 102.7h0M396.9 91.3h0M397.3 79.9h0M397.0 68.6h0M397.6 63.0h0M397.5 61.9h0M397.9 61.0h0M397.4 61.6h0M398.4 60.3h0M397.6 62.1h0M398.2 61.5h0M398.3 59.9h0M399.3 61.1h0M399.2 59.3h0M399.5 59.3h0M400.0 59.9h0M399.7 61.4h0M399.6 61.4h0M400.3 59.4h0M399.9 59.3h0M400.7 60.1h0M400.2 59.5h0M400.8 61.1h0M401.7 61.3h0M401.4 60.0h0M401.8 60.3h0M402.0 60.5h0M402.7 60.6h0M402.2 60.4h0M402.2 61.0h0M403.4 60.1h0M403.0 60.7h0M403.1 59.6h0M402.8 61.0h0M403.8 61.1h0M404.0 60.0h0M404.3 61.1h0M404.6 61.4h0M403.9 62.8h0M405.0 61.9h0M404.6 64.4h0M405.3 63.8h0M405.2 63.9h0M405.4 64.2h0M405.6 65.1h0M406.4 65.0h0M406.4 64.5h0M406.1 75.9h0M406.2 87.3h0M406.1 99.5h0M406.4 111.7h0M407.2 124.5h0M406.9 130.5h0M407.8 134.7h0M408.1 139.5h0M407.6 142.0h0M408.5 146.4h0M407.9 149.5h0M408.5 151.4h0M409.1 154.0h0M408.5 157.9h0M409.5 159.9h0M409.8 162.0h0M409.1 162.0h0M410.2 162.5h0M409.8 163.1h0M410.1 164.1h0M411.0 164.7h0M410.0 164.8h0M411.4 167.0h0M411.0 167.5h0M411.9 167.8h0M411.9 166.7h0M412.0 168.5h0M411.7 168.2h0M411.9 168.2h0M412.6 168.1h0M413.1 169.0h0M413.4 168.9h0M413.7 170.5h0M413.8 171.1h0M412.9 170.5h0M413.3 171.0h0M414.2 170.2h0M414.1 170.8h0M414.6 171.9h0M414.3 170.7h0M414.8 172.0h0M414.9 172.0h0M415.3 170.8h0M415.1 172.3h0M416.3 172.4h0M416.4 172.6h0M416.3 171.0h0M415.8 172.9h0M416.3 171.6h0M416.7 172.1h0M417.4 172.0h0M416.7 171.0h0M417.0 171.2h0M418.3 171.1h0M417.4 172.8h0M417.9 172.1h0M418.2 171.6h0M418.7 172.4h0M418.4 171.7h0M418.5 171.6h0M419.5 172.1h0M418.9 171.8h0M419.5 171.3h0M420.3 172.2h0M420.5 171.7h0M420.3 172.2h0M420.6 171.7h0M420.7 172.4h0M421.0 172.3h0M421.3 171.3h0M420.9 172.3h0M421.6 171.7h0M422.5 172.6h0M422.6 171.5h0M422.0 172.4h0M422.1 171.7h0M423.0 172.4h0M423.4 172.6h0M423.5 172.0h0M422.9 171.8h0M423.0 171.8h0M424.2 170.8h0M423.6 170.6h0M424.8 170.7h0M423.9 170.8h0M424.3 172.3h0M425.2 172.3h0M425.8 172.2h0M425.8 171.7h0M426.0 170.5h0M426.1 171.5h0M426.4 170.6h0M425.7 172.5h0M426.6 171.1h0M426.4 172.2h0M426.6 170.8h0M427.5 171.8h0M427.2 171.3h0M427.4 171.3h0M427.3 171.3h0M428.7 171.5h0M428.6 171.3h0M428.8 170.8h0M428.9 172.1h0M428.9 171.5h0M429.7 171.8h0M428.8 170.7h0M430.1 172.0h0M429.7 171.5h0M429.6 172.0h0M429.9 171.0h0M430.2 170.1h0M431.0 167.3h0M430.7 166.9h0M431.0 164.4h0M431.5 154.4h0M431.2 140.2h0M431.8 134.0h0M431.6 122.6h0M431.6 111.2h0M432.6 96.7h0M433.1 89.3h0M432.8 83.6h0M433.3 79.7h0M433.2 77.7h0M433.6 75.1h0M433.4 74.0h0M434.4 74.3h0M433.6 74.9h0M434.5 75.5h0M435.0 77.5h0M434.3 79.1h0M434.6 78.7h0M435.4 79.5h0M435.8 81.3h0M436.0 80.3h0M435.7 80.7h0M435.4 82.0h0M436.6 80.9h0M436.2 81.7h0M436.9 82.6h0M436.6 81.7h0M437.1 83.0h0M437.4 82.8h0M437.4 84.7h0M437.2 84.1h0M438.2 83.8h0M438.7 83.7h0M437.9 85.8h0M438.5 86.8h0M439.2 88.0h0M439.3 88.5h0M439.7 90.8h0M439.8 91.5h0M439.9 107.3h0M439.7 120.6h0M439.4 133.8h0M440.4 138.2h0M440.5 142.7h0M440.8 145.2h0M440.4 149.4h0M441.2 153.2h0M441.8 154.3h0M441.3 156.1h0M441.8 159.1h0M442.1 160.5h0M441.9 162.0h0M441.8 163.0h0M442.9 165.5h0M443.1 166.4h0M442.7 167.3h0M443.7 168.7h0M443.5 169.0h0M444.0 169.9h0M443.7 170.6h0M444.2 171.1h0M444.1 172.4h0M444.0 173.0h0M444.3 172.2h0M445.4 172.2h0M444.8 174.0h0M445.3 173.3h0M446.1 174.9h0M446.0 175.0h0M446.0 173.9h0M446.4 174.1h0M446.1 175.1h0M447.1 174.5h0M447.4 174.2h0M447.8 176.2h0M447.5 175.3h0M447.8 175.8h0M448.1 176.9h0M448.6 175.5h0M448.4 176.1h0M447.9 176.7h0M449.0 177.0h0M449.0 176.5h0M448.8 176.3h0M448.8 176.4h0M449.8 176.3h0M449.9 176.1h0M450.6 177.2h0M450.7 175.3h0M449.9 176.4h0M450.4 175.7h0M451.0 175.0h0M450.9 176.9h0M451.6 176.7h0M452.1 175.0h0M452.4 176.0h0M452.4 176.2h0M452.7 175.3h0M453.0 176.5h0M453.0 175.4h0M452.4 175.4h0M452.6 174.4h0M452.9 174.7h0M453.8 175.4h0M453.7 175.5h0M453.8 175.7h0M454.6 175.3h0M454.0 175.2h0M455.0 176.3h0M454.7 175.1h0M455.2 175.5h0M454.7 174.8h0M455.9 174.8h0M455.7 174.7h0M455.6 174.8h0M456.1 174.7h0M455.8 174.7h0M456.2 174.6h0M456.3 175.4h0M457.0 174.4h0M457.6 175.3h0M457.4 174.5h0M457.1 175.2h0M457.6 176.5h0M458.2 174.6h0M458.6 174.7h0M458.1 175.1h0M459.2 174.5h0M459.5 175.0h0M459.9 175.4h0M459.2 175.1h0M460.2 175.0h0M459.8 175.8h0M460.4 174.6h0M460.5 176.5h0M460.0 174.4h0M460.4 174.6h0M460.5 174.5h0M461.8 175.9h0M462.1 174.9h0M462.1 175.5h0M462.5 176.5h0M461.9 174.5h0M463.0 175.8h0M462.3 174.7h0M462.3 176.4h0M462.8 175.4h0M463.8 176.0h0M463.8 174.9h0M464.1 176.1h0M464.5 175.7h0M464.0 175.3h0M464.7 175.1h0M464.3 175.6h0M465.1 174.9h0M465.3 175.9h0M465.2 175.4h0M465.7 174.9h0M465.6 174.6h0M466.1 176.3h0M465.8 174.8h0M466.5 176.5h0M467.1 176.6h0M467.3 175.6h0M466.8 176.2h0M466.7 175.5h0M468.0 175.5h0M467.8 174.9h0M467.3 174.9h0M467.8 176.1h0M467.9 174.8h0M468.7 176.1h0M468.4 174.7h0M468.6 176.8h0M469.1 174.2h0M469.6 172.7h0M469.7 170.8h0M469.4 167.5h0M470.5 164.9h0M469.7 162.5h0M470.1 157.8h0M470.2 145.7h0M470.6 139.8h0M471.3 138.1h0M471.7 133.7h0M471.4 131.0h0M471.8 129.4h0M472.5 127.8h0M472.7 129.3h0M472.6 129.0h0M473.0 130.0h0M472.7 129.6h0M472.6 131.0h0M473.7 131.7h0M473.8 131.7h0M473.4 132.2h0M474.7 131.8h0M474.2 131.9h0M474.1 131.5h0M475.3 131.9h0M475.4 133.2h0M475.3 134.0h0M475.4 134.0h0M476.2 133.0h0M476.4 134.2h0M476.4 133.4h0M476.9 133.4h0M476.2 134.7h0M476.3 134.9h0M477.2 133.3h0M477.1 134.1h0M476.7 135.3h0M477.3 136.0h0M477.6 135.7h0M478.3 136.8h0M477.7 136.2h0M478.3 136.6h0M478.2 138.4h0M479.1 142.8h0M479.7 147.0h0M479.2 151.6h0M479.3 153.1h0M479.8 155.8h0M479.8 158.0h0M479.9 160.9h0M480.9 162.4h0M480.4 165.6h0M481.3 166.8h0M480.6 168.6h0M481.3 171.5h0M480.9 171.5h0M482.1 172.5h0M482.6 174.0h0M482.8 175.5h0M482.0 174.5h0M482.5 174.8h0M482.2 175.9h0M482.5 176.7h0M482.9 176.5h0M483.4 178.0h0M483.1 177.1h0M484.1 177.8h0M484.7 178.7h0M484.0 179.3h0M484.9 178.0h0M484.8 179.5h0M485.1 179.6h0M484.8 178.5h0M485.7 178.0h0M486.2 180.0h0M486.1 179.1h0M486.6 180.2h0M486.2 179.5h0M486.1 179.4h0M487.0 178.7h0M487.1 180.6h0M487.0 179.4h0M487.9 179.5h0M488.3 179.6h0M487.7 178.8h0M488.0 179.5h0M488.8 180.1h0M488.7 180.2h0M488.9 178.1h0M489.0 179.1h0M489.5 178.4h0M488.9 179.7h0M489.5 179.0h0M490.4 178.5h0M490.3 179.5h0M490.9 177.9h0M490.4 177.9h0M490.5 179.3h0M491.6 178.1h0M491.0 179.6h0M491.1 178.4h0M491.3 177.9h0M491.3 179.7h0M491.7 178.1h0M492.3 177.8h0M493.0 179.3h0M493.2 179.1h0M492.7 177.7h0M492.6 179.8h0M493.4 178.3h0M493.7 178.4h0M493.5 177.9h0M493.6 179.9h0M493.9 179.8h0M494.7 180.0h0M494.2 179.3h0M495.3 178.0h0M494.8 178.3h0M495.9 179.7h0M496.2 178.0h0M495.7 179.1h0M495.9 178.1h0M496.0 180.1h0M496.0 178.2h0M496.5 178.2h0M496.4 179.9h0M497.7 178.3h0M498.0 180.1h0M497.4 178.4h0M497.8 180.0h0M497.8 179.4h0M498.0 177.9h0M498.8 179.5h0M498.6 179.2h0M498.8 179.1h0M499.6 179.1h0M499.5 178.3h0M500.0 180.0h0M500.4 178.3h0M499.6 179.7h0M499.8 178.4h0M501.1 177.9h0M501.2 178.7h0M500.2 178.0h0M501.5 179.6h0M501.6 179.8h0M501.9 178.7h0M501.8 177.8h0M501.5 178.5h0M502.0 178.8h0M502.3 178.5h0M502.5 178.1h0M503.5 178.7h0M503.6 179.3h0M503.0 179.1h0M503.2 179.3h0M503.7 177.4h0M503.8 178.7h0M503.9 178.5h0M504.3 179.1h0M504.7 178.0h0M505.5 178.9h0M505.0 177.6h0M504.7 176.1h0M506.0 174.0h0M505.1 173.1h0M505.8 171.6h0M506.0 170.2h0M506.4 166.8h0M506.5 166.6h0M507.1 164.8h0M506.8 161.6h0M507.1 159.5h0M507.7 156.4h0M507.8 154.6h0M507.6 150.4h0M508.3 148.5h0M507.8 145.6h0M508.3 144.5h0M508.9 142.6h0M509.1 143.2h0M509.7 141.5h0M510.0 140.4h0M509.9 137.7h0M510.4 135.0h0M510.1 134.3h0M510.1 134.7h0M511.0 132.4h0M510.2 133.0h0M510.8 131.7h0M511.7 131.5h0M511.1 131.8h0M511.7 132.2h0M512.0 132.2h0M512.0 132.6h0M513.0 131.2h0M512.0 132.4h0M513.1 131.8h0M512.4 132.9h0M513.2 130.8h0M513.9 131.8h0M513.4 132.8h0M514.0 132.0h0M513.7 133.1h0M513.8 132.1h0M513.9 132.7h0M514.8 133.5h0M514.4 132.7h0M515.1 132.1h0M515.5 133.5h0M516.3 132.4h0M515.9 133.3h0M515.8 132.4h0M515.8 134.3h0M516.7 133.8h0M517.1 133.7h0M517.4 135.2h0M516.8 135.1h0M517.3 133.9h0M517.2 134.8h0M517.4 136.3h0M518.6 136.5h0M518.8 136.3h0M518.1 141.0h0M518.1 145.3h0M518.8 150.7h0M519.6 156.3h0M519.2 158.9h0M519.2 162.8h0M519.5 165.7h0M519.8 168.6h0M519.9 168.1h0M520.5 169.6h0M520.9 169.9h0M521.1 170.7h0M520.7 172.3h0M521.2 173.0h0M521.7 172.9h0M521.7 173.5h0M522.4 172.6h0M522.2 174.8h0M522.1 174.6h0M522.9 175.5h0M523.3 174.3h0M522.9 176.2h0M523.3 176.5h0M523.8 174.9h0M524.1 175.5h0M523.5 176.2h0M524.7 176.4h0M524.5 176.5h0M524.6 177.4h0M525.0 176.6h0M524.7 177.4h0M525.6 175.8h0M525.3 176.9h0M526.2 177.7h0M526.6 177.0h0M526.5 177.7h0M525.8 176.6h0M526.9 177.5h0M526.8 176.8h0M526.7 177.4h0M527.4 177.7h0M527.0 177.1h0M527.5 177.5h0M527.5 177.9h0M527.8 177.3h0M528.5 177.4h0M528.0 176.8h0M528.4 177.6h0M528.6 177.8h0M529.3 176.9h0M530.0 178.8h0M529.6 178.0h0M529.6 177.0h0M530.7 177.6h0M531.0 177.1h0M530.5 177.9h0M531.4 177.4h0M531.1 177.2h0M530.8 177.9h0M532.1 177.2h0M532.0 178.5h0M531.4 178.7h0M532.5 178.2h0M532.3 177.2h0M532.3 178.8h0M532.3 178.3h0M532.7 178.1h0M533.1 177.7h0M533.8 178.5h0M533.9 177.6h0M534.3 177.5h0M534.2 177.1h0M534.2 177.8h0M534.1 176.5h0M534.4 177.8h0M535.0 178.1h0M535.7 178.5h0M535.3 178.0h0M535.7 176.4h0M536.4 178.0h0M535.6 176.7h0M536.6 178.4h0M536.8 177.3h0M536.8 176.6h0M537.1 177.7h0M536.7 176.5h0M537.9 177.5h0M537.0 176.4h0M538.2 176.3h0M538.0 177.0h0M538.4 178.3h0M538.8 176.6h0M538.4 176.0h0M538.5 177.5h0M539.2 176.1h0M540.0 176.7h0M540.0 176.2h0M540.2 176.8h0M540.3 176.9h0M539.9 176.5h0M540.9 176.7h0M540.3 176.4h0M540.4 176.4h0M541.2 176.1h0M541.5 176.5h0M541.0 175.8h0M541.6 175.2h0M542.1 175.5h0M542.6 175.5h0M542.7 176.2h0M542.7 176.4h0M542.6 175.6h0M543.5 174.7h0M542.8 175.5h0M543.7 176.4h0M543.7 175.6h0M544.7 174.4h0M544.0 174.4h0M543.9 176.2h0M544.6 175.0h0M545.4 174.3h0M544.5 174.6h0M544.7 174.6h0M546.0 175.0h0M545.2 175.4h0M545.7 174.8h0M545.9 174.2h0M545.9 173.4h0M546.1 173.7h0M546.3 173.9h0M546.7 173.5h0M547.6 171.1h0M547.9 169.7h0M547.9 167.3h0M548.2 163.4h0M548.8 159.5h0M547.8 148.4h0M549.2 147.9h0M549.1 145.5h0M548.9 143.7h0M549.4 141.5h0M549.2 137.7h0M549.4 135.4h0M549.6 131.0h0M550.4 127.8h0M551.0 126.1h0M550.2 124.2h0M550.2 124.2h0M551.2 124.4h0M550.9 125.5h0M550.9 124.9h0M551.7 125.3h0M552.4 125.8h0M551.9 126.8h0M551.8 126.8h0M552.9 127.9h0M553.1 127.4h0M552.6 127.5h0M552.8 127.6h0M553.6 128.7h0M553.2 129.2h0M553.9 129.5h0M554.1 128.9h0M553.9 129.2h0M554.8 129.3h0M555.3 130.3h0M555.5 129.3h0M555.5 130.9h0M555.0 131.5h0M556.2 131.3h0M556.0 130.0h0M555.8 132.5h0M556.9 133.6h0M556.1 133.9h0M557.2 134.7h0M556.7 136.4h0M557.8 141.5h0M556.8 147.4h0M557.4 153.0h0M558.5 154.5h0M557.5 157.0h0M558.0 161.3h0M559.1 163.0h0M559.3 166.2h0M558.7 168.0h0M559.2 168.7h0M559.3 170.5h0M559.4 171.3h0M560.4 173.0h0M560.5 173.8h0M560.0 173.3h0M560.0 173.8h0M561.3 175.8h0M561.0 175.9h0M561.1 174.3h0M561.9 174.4h0M561.3 175.1h0M561.4 176.8h0M561.8 177.0h0M561.7 176.6h0M562.3 177.4h0M562.9 176.4h0M562.6 177.1h0M563.2 176.3h0M563.9 176.3h0M563.1 177.2h0M563.3 177.2h0M564.1 177.1h0M564.0 177.2h0M564.4 176.9h0M564.6 177.9h0M564.9 177.9h0M564.7 176.4h0M565.3 177.9h0M565.6 176.9h0M565.6 177.8h0M565.8 176.7h0M566.3 175.9h0M566.4 176.8h0M566.6 176.7h0M566.5 177.3h0M566.6 177.8h0M566.9 177.5h0M567.2 177.3h0M567.8 175.6h0M568.4 177.3h0M568.8 177.3h0M568.3 175.5h0M569.0 175.6h0M569.2 176.4h0M569.7 177.2h0M569.8 176.9h0M569.0 176.6h0M569.2 177.4h0M570.4 175.6h0M570.4 176.0h0M570.0 175.5h0M570.0 177.0h0M571.4 176.5h0M571.3 175.9h0M571.4 177.0h0M571.8 177.1h0M571.3 175.4h0M572.6 176.6h0M572.3 175.9h0M572.8 175.7h0M572.6 176.4h0M572.3 176.9h0M573.4 177.0h0M573.0 177.3h0M573.0 175.9h0M573.6 177.4h0M573.9 176.3h0M573.9 176.9h0M574.7 176.1h0M574.3 177.1h0M575.4 175.6h0M575.1 177.0h0M575.8 176.3h0M575.1 176.3h0M575.5 175.5h0M575.7 176.6h0M576.3 177.4h0M576.6 176.3h0M576.7 176.6h0M576.8 176.3h0M577.4 176.3h0M577.6 175.6h0M577.9 175.8h0M577.6 175.3h0M578.2 176.1h0M577.8 175.5h0M578.4 175.3h0M577.9 176.3h0M578.4 175.4h0M578.9 177.1h0M578.9 176.2h0M579.8 176.4h0M579.0 176.4h0M579.8 175.9h0M580.5 175.0h0M580.0 175.5h0M580.6 176.2h0M581.2 175.9h0M580.8 175.9h0M581.2 174.9h0M581.4 175.5h0M581.0 175.5h0M581.4 174.8h0M582.5 174.9h0M581.9 175.9h0M582.7 176.2h0M583.1 174.7h0M583.6 175.1h0M582.9 174.8h0M583.9 175.1h0M583.7 176.3h0M583.7 174.8h0M583.5 176.0h0M584.7 176.4h0M584.7 176.4h0M585.3 175.7h0M584.7 174.9h0M584.7 174.6h0M584.8 176.1h0M585.4 175.7h0M586.1 175.7h0M586.5 175.0h0M585.9 173.3h0M586.4 173.7h0M587.2 174.1h0M587.5 174.0h0M586.9 173.6h0M587.7 172.9h0M587.4 173.3h0M587.9 172.0h0M588.5 171.4h0M588.5 162.8h0M588.4 154.3h0M588.5 145.9h0M589.3 142.3h0M589.0 140.1h0M589.6 137.1h0M589.8 133.5h0M590.2 133.6h0M589.6 132.1h0M590.2 129.5h0M590.5 129.3h0M590.9 130.0h0M590.4 129.4h0M591.1 130.5h0M591.2 129.3h0M591.5 129.3h0M591.2 129.4h0M592.2 130.3h0M591.7 129.7h0M592.5 128.4h0M592.6 129.7h0M592.9 128.3h0M592.7 129.3h0M593.0 129.8h0M593.6 130.3h0M593.0 131.4h0M594.3 130.9h0M594.0 131.4h0M593.5 132.2h0M594.5 132.4h0M594.4 132.6h0M594.3 133.5h0M594.7 134.2h0M595.7 136.0h0M595.8 135.9h0M595.7 143.5h0M596.4 146.9h0M596.5 152.0h0M596.8 156.8h0M596.7 159.9h0M596.2 163.4h0M597.5 165.7h0M597.0 169.1h0M597.3 171.8h0M597.5 172.4h0M598.5 171.1h0M597.8 171.5h0M597.8 173.5h0M599.0 173.4h0M598.6 174.0h0M599.4 174.8h0M599.4 174.8h0M599.3 174.7h0M600.3 176.5h0M599.5 174.4h0M600.5 174.9h0M599.9 174.9h0M600.1 176.2h0M600.7 176.7h0M601.4 176.6h0M601.6 175.2h0M601.1 175.7h0M601.9 174.9h0M601.6 176.1h0M601.7 176.8h0M601.8 176.0h0M603.0 175.8h0M602.3 176.2h0M603.2 175.7h0M603.7 175.8h0M603.9 175.4h0M604.0 176.7h0M603.3 176.1h0M604.2 175.8h0M603.8 175.5h0M605.0 177.2h0M605.2 177.4h0M605.4 176.7h0M605.2 177.1h0M604.8 176.5h0M605.3 175.8h0M605.3 176.6h0M606.1 177.8h0M606.8 177.3h0M607.0 176.2h0M606.4 177.8h0M607.3 176.0h0M607.5 177.7h0M607.5 176.7h0M607.2 176.1h0M608.1 176.8h0M608.6 176.1h0M608.9 176.0h0M608.9 176.5h0M609.3 177.8h0M609.2 177.0h0M609.6 176.7h0M609.8 176.3h0M609.0 177.4h0M609.5 178.2h0M609.7 176.3h0M609.9 176.2h0M611.1 177.8h0M611.1 177.6h0M611.2 178.1h0M610.8 177.1h0M611.4 176.7h0M611.9 176.8h0M611.9 177.1h0M612.1 177.6h0M611.9 176.7h0M612.0 177.9h0M613.3 177.9h0M613.5 177.3h0M613.7 177.8h0M613.6 177.6h0M613.1 177.9h0M613.8 177.5h0M614.2 177.4h0M614.6 178.4h0M613.9 178.2h0M614.8 177.9h0M614.2 178.5h0M615.7 176.8h0M615.6 177.2h0M615.4 177.7h0M615.8 177.4h0M616.0 178.6h0M615.9 178.1h0M616.5 178.0h0M617.1 178.0h0M617.4 176.6h0M616.7 177.7h0M616.7 177.4h0M617.9 176.9h0M618.2 178.0h0M617.4 176.8h0M618.1 177.2h0M618.1 178.0h0M618.7 178.0h0M619.2 177.0h0M619.1 176.6h0M618.6 176.8h0M619.5 177.5h0M619.5 177.7h0M620.3 178.4h0M619.5 176.4h0M620.2 177.6h0M620.1 175.2h0M620.4 175.9h0M621.2 174.6h0M621.4 174.0h0M621.8 174.7h0M621.8 173.5h0M622.1 172.2h0M622.2 172.4h0M622.7 171.4h0M622.8 170.3h0M622.1 171.5h0M623.6 169.5h0M623.6 168.7h0M622.9 169.3h0M623.0 169.0h0M623.6 168.8h0M624.6 168.3h0M624.2 166.0h0M624.9 165.4h0M624.2 164.5h0M625.4 163.7h0M624.9 163.1h0M625.5 162.7h0M626.2 161.7h0M625.8 160.2h0M625.7 157.8h0M626.7 151.3h0M627.0 146.4h0M626.6 144.6h0M626.4 140.8h0M627.1 139.6h0M627.0 136.0h0M628.1 133.8h0M627.9 132.1h0M628.1 132.1h0M628.1 131.7h0M628.9 131.0h0M628.8 132.5h0M629.5 131.0h0M628.7 130.8h0M629.8 131.7h0M629.1 131.5h0M629.3 132.4h0M630.7 130.9h0M630.6 131.8h0M630.9 130.2h0M630.0 130.9h0M631.5 131.7h0M631.1 130.0h0M631.1 132.0h0M631.9 130.8h0M632.4 131.1h0M632.5 132.1h0M631.8 131.9h0M632.5 131.9h0M632.7 131.5h0M632.5 131.2h0M632.9 132.6h0M633.9 130.9h0M633.8 131.9h0M633.3 131.6h0M634.4 131.6h0M634.7 131.8h0M634.9 132.1h0M634.6 132.1h0M634.4 132.3h0M634.9 133.4h0M634.9 133.7h0M635.3 133.5h0M635.2 138.7h0M636.4 140.8h0M635.9 144.4h0M635.9 149.3h0M636.0 152.2h0M637.3 157.6h0M636.8 162.1h0M636.7 165.7h0M637.7 166.1h0M637.8 168.3h0M638.1 169.5h0M638.1 171.7h0M638.5 171.1h0M638.0 172.7h0M638.7 172.3h0M638.7 173.6h0M638.9 174.5h0M639.3 175.5h0M639.1 174.5h0M639.5 174.7h0M640.0 176.8h0M641.0 176.2h0M640.9 177.8h0M640.6 176.6h0M640.7 177.6h0M640.9 177.5h0M641.8 177.5h0M641.6 178.5h0M642.0 178.4h0M641.5 179.1h0M642.3 179.6h0M643.2 178.7h0M642.6 179.9h0M642.9 178.5h0M489.9 168.8h0M505.2 152.5h0M406.5 108.5h0" stroke="#3261C8" stroke-width="4.00" stroke-linecap="round" fill="none"/>
<path d="M392.3 351.4h0M393.1 351.8h0M392.7 347.3h0M393.0 341.3h0M393.1 335.3h0M394.4 333.4h0M394.5 322.6h0M394.2 307.0h0M394.0 291.4h0M394.7 279.7h0M395.0 267.9h0M394.4 249.5h0M395.5 243.9h0M395.1 243.0h0M395.3 242.9h0M396.6 244.0h0M396.1 243.1h0M396.8 243.9h0M397.4 243.8h0M397.1 243.5h0M397.4 244.2h0M397.5 243.8h0M397.5 245.8h0M398.5 244.7h0M398.7 245.8h0M398.7 247.0h0M398.8 248.9h0M399.1 248.4h0M399.4 249.6h0M400.3 249.8h0M400.4 251.0h0M400.1 253.5h0M400.5 253.0h0M401.3 256.2h0M401.1 272.7h0M401.2 289.2h0M401.2 305.7h0M402.0 320.1h0M402.6 329.1h0M402.9 332.0h0M402.3 333.7h0M403.2 339.1h0M403.7 341.1h0M403.8 343.4h0M403.3 344.5h0M403.5 346.7h0M404.8 348.5h0M403.9 350.2h0M404.3 350.4h0M404.9 352.8h0M404.8 352.6h0M405.5 354.9h0M405.3 354.0h0M405.7 354.3h0M406.0 356.0h0M406.7 355.0h0M407.7 355.8h0M407.3 355.8h0M407.5 357.6h0M407.8 358.4h0M408.0 357.1h0M408.3 357.0h0M409.2 357.6h0M409.0 359.0h0M408.9 357.3h0M409.2 357.9h0M410.3 358.0h0M409.5 357.9h0M410.5 359.7h0M410.5 360.0h0M411.1 359.9h0M411.5 359.8h0M411.0 359.2h0M412.3 358.7h0M412.6 360.2h0M412.5 358.9h0M412.8 359.8h0M412.9 359.8h0M413.4 359.4h0M414.0 358.4h0M413.2 359.9h0M414.6 359.8h0M413.7 359.1h0M414.1 358.8h0M415.1 358.2h0M414.7 355.5h0M415.5 356.0h0M416.3 354.6h0M415.3 350.2h0M415.6 348.1h0M416.0 344.3h0M417.2 340.3h0M417.2 336.5h0M417.0 328.8h0M417.4 321.6h0M418.3 315.0h0M418.3 319.3h0M417.9 323.3h0M418.8 329.2h0M419.2 334.4h0M419.2 335.9h0M419.7 340.1h0M420.3 340.9h0M419.6 344.5h0M420.3 345.6h0M420.5 347.8h0M421.0 347.3h0M420.8 349.6h0M421.7 348.4h0M421.9 350.8h0M422.6 350.4h0M421.8 351.9h0M422.3 352.7h0M423.4 351.8h0M423.7 352.5h0M424.0 352.4h0M423.4 352.8h0M423.9 354.0h0M424.9 354.5h0M424.0 355.3h0M425.0 354.8h0M425.5 355.3h0M424.9 355.4h0M426.2 354.9h0M426.4 355.3h0M426.5 356.8h0M426.8 356.2h0M427.4 355.5h0M427.7 355.9h0M427.9 355.7h0M427.9 356.8h0M427.5 356.1h0M428.1 357.0h0M428.1 356.7h0M428.4 355.3h0M428.7 356.8h0M429.3 356.9h0M429.5 356.1h0M429.4 356.1h0M430.8 355.5h0M430.7 354.9h0M430.6 355.1h0M430.5 354.3h0M431.8 356.2h0M432.1 353.1h0M431.5 348.6h0M432.2 342.9h0M433.1 336.8h0M433.4 328.6h0M433.3 313.4h0M433.7 318.3h0M434.1 321.9h0M434.5 326.9h0M434.3 333.6h0M434.7 336.8h0M434.4 337.3h0M435.2 339.1h0M435.8 342.4h0M435.4 342.2h0M435.6 344.1h0M435.5 344.3h0M436.5 344.9h0M436.9 346.7h0M437.6 346.6h0M436.8 347.7h0M438.2 347.1h0M438.4 349.7h0M437.9 349.4h0M438.1 348.8h0M439.2 349.7h0M439.3 351.6h0M438.9 350.2h0M440.1 350.8h0M440.2 350.8h0M440.1 352.2h0M440.0 353.1h0M440.2 352.4h0M440.3 351.8h0M440.7 352.5h0M442.1 352.2h0M442.3 353.0h0M442.3 354.2h0M442.9 354.3h0M442.9 355.0h0M443.1 354.5h0M443.2 355.1h0M443.0 354.8h0M443.7 355.7h0M443.5 354.2h0M443.9 356.2h0M444.8 355.3h0M444.6 356.5h0M445.0 355.7h0M445.9 355.1h0M446.3 355.2h0M445.5 354.7h0M446.6 354.3h0M446.6 351.1h0M447.1 349.7h0M447.5 346.2h0M447.6 341.4h0M448.2 333.8h0M448.4 323.5h0M448.3 315.1h0M448.6 316.7h0M448.5 321.7h0M449.5 324.4h0M448.7 327.5h0M449.3 331.3h0M450.1 335.5h0M450.7 337.3h0M450.2 340.1h0M451.2 342.8h0M451.5 344.9h0M451.5 345.7h0M451.6 347.0h0M451.6 349.3h0M452.4 348.7h0M452.4 350.7h0M452.3 351.3h0M452.4 350.7h0M453.8 352.3h0M453.0 352.5h0M454.2 353.4h0M453.4 352.8h0M454.5 353.8h0M454.0 353.7h0M454.3 354.3h0M454.7 354.0h0M456.0 353.8h0M456.2 354.8h0M455.9 353.9h0M455.7 354.6h0M457.2 354.3h0M457.3 355.2h0M457.4 354.3h0M457.7 355.4h0M457.3 354.8h0M458.5 353.9h0M458.0 356.0h0M458.4 355.7h0M459.3 355.4h0M459.3 354.5h0M459.4 354.2h0M459.3 353.6h0M460.5 354.0h0M460.6 353.5h0M461.1 353.3h0M460.2 353.3h0M461.6 353.2h0M461.9 354.1h0M461.1 353.6h0M461.8 353.1h0M461.7 354.4h0M462.9 352.6h0M463.4 349.9h0M463.1 347.6h0M463.8 343.9h0M464.0 337.0h0M464.1 332.6h0M464.5 327.6h0M464.0 322.3h0M464.5 322.6h0M465.6 326.8h0M465.1 331.0h0M465.1 335.7h0M466.4 337.8h0M466.3 342.0h0M465.8 344.3h0M466.9 346.0h0M467.4 346.7h0M466.8 346.7h0M467.5 347.9h0M467.8 350.0h0M468.4 350.4h0M468.7 352.0h0M468.2 350.8h0M468.6 351.7h0M468.8 353.1h0M469.3 353.7h0M470.0 353.7h0M469.6 355.5h0M470.9 354.3h0M470.0 354.1h0M471.3 354.2h0M471.7 355.6h0M470.8 355.2h0M472.0 354.9h0M471.5 355.2h0M472.2 355.3h0M472.5 355.4h0M472.2 355.0h0M473.4 356.3h0M472.9 355.5h0M473.7 355.2h0M473.9 356.4h0M474.3 356.5h0M474.7 354.7h0M474.9 355.6h0M474.4 355.8h0M475.7 355.1h0M475.0 354.4h0M475.6 354.4h0M475.9 354.6h0M476.0 353.6h0M477.0 351.7h0M477.6 349.7h0M477.0 347.8h0M477.6 343.2h0M477.7 339.1h0M477.7 334.7h0M477.9 327.7h0M478.8 317.8h0M478.5 317.8h0M479.4 322.1h0M480.0 326.0h0M479.3 335.4h0M480.5 341.3h0M480.4 343.8h0M480.1 345.2h0M481.4 347.7h0M481.2 348.0h0M481.8 349.0h0M482.3 351.4h0M482.0 350.8h0M482.4 350.8h0M483.1 353.0h0M482.8 351.7h0M483.1 352.1h0M483.2 354.3h0M484.3 354.5h0M483.6 354.8h0M484.9 355.4h0M483.9 355.7h0M484.6 353.6h0M485.0 354.9h0M485.6 354.0h0M485.9 355.4h0M486.0 355.2h0M485.7 355.7h0M486.1 355.2h0M487.2 354.6h0M486.9 355.2h0M487.5 355.2h0M487.8 354.9h0M488.5 354.8h0M488.6 355.0h0M488.4 355.8h0M488.6 355.2h0M489.1 356.1h0M489.0 355.6h0M489.2 355.7h0M490.1 355.4h0M490.3 355.5h0M490.1 355.5h0M491.0 356.3h0M491.6 355.7h0M491.1 355.1h0M491.3 354.7h0M491.6 354.3h0M492.1 352.2h0M492.2 350.5h0M492.5 348.0h0M493.4 344.6h0M493.7 339.7h0M493.0 335.5h0M493.2 333.5h0M494.6 327.5h0M494.6 322.6h0M494.3 323.3h0M495.6 327.6h0M494.9 332.7h0M495.8 336.0h0M495.2 339.0h0M495.5 342.9h0M495.7 343.9h0M496.5 347.8h0M497.0 348.4h0M497.0 350.0h0M497.7 349.7h0M497.6 350.0h0M498.1 352.4h0M498.9 352.2h0M498.9 352.5h0M498.3 352.8h0M498.8 353.2h0M499.1 352.8h0M499.6 353.4h0M500.3 355.0h0M500.0 355.3h0M501.1 354.9h0M501.4 354.3h0M501.7 353.6h0M502.0 355.3h0M501.9 355.2h0M502.2 354.4h0M502.3 355.3h0M503.1 354.8h0M502.6 354.0h0M503.6 353.5h0M503.6 354.5h0M503.2 351.4h0M504.4 349.7h0M504.1 346.9h0M504.9 344.4h0M505.2 341.0h0M505.3 338.0h0M505.3 337.0h0M505.3 334.2h0M505.7 330.1h0M506.4 327.4h0M506.6 323.3h0M507.1 326.1h0M507.6 330.3h0M507.6 335.3h0M507.6 337.5h0M508.2 340.7h0M508.4 343.3h0M508.1 345.1h0M508.2 346.5h0M508.5 347.9h0M509.8 347.9h0M509.2 351.2h0M510.2 350.0h0M509.6 352.1h0M510.8 352.8h0M510.3 352.9h0M510.3 352.3h0M511.5 353.7h0M511.1 354.7h0M511.2 355.2h0M511.6 354.9h0M511.9 353.7h0M512.2 355.6h0M512.8 354.0h0M513.2 354.8h0M513.7 355.4h0M513.5 356.3h0M513.5 355.7h0M513.7 355.0h0M514.3 356.5h0M515.3 356.2h0M514.7 355.5h0M515.4 355.1h0M515.1 355.3h0M516.1 356.2h0M516.7 356.2h0M516.9 355.8h0M516.7 355.6h0M517.6 355.2h0M516.9 350.8h0M517.6 348.1h0M517.9 346.9h0M518.0 344.1h0M518.1 340.2h0M518.4 336.5h0M518.9 331.3h0M519.8 328.7h0M520.1 324.3h0M519.4 325.6h0M520.7 328.7h0M520.7 332.2h0M520.8 334.1h0M521.1 337.8h0M521.8 339.9h0M521.0 343.9h0M521.3 346.5h0M521.6 349.3h0M522.1 350.6h0M523.0 352.3h0M523.4 352.0h0M522.9 354.0h0M522.8 355.5h0M523.9 354.8h0M524.0 354.6h0M524.1 356.6h0M524.2 356.6h0M525.5 357.6h0M525.5 356.2h0M524.8 356.9h0M526.0 356.8h0M526.1 357.5h0M525.9 356.9h0M526.6 357.6h0M526.8 358.8h0M527.7 357.9h0M527.8 358.9h0M527.7 359.2h0M527.5 358.0h0M528.6 358.8h0M529.1 359.4h0M528.8 358.5h0M528.6 359.5h0M529.4 358.2h0M529.8 358.7h0M530.0 357.7h0M530.1 357.6h0M530.3 357.6h0M530.6 358.5h0M531.0 357.4h0M531.1 358.5h0M531.5 357.5h0M531.3 358.4h0M531.6 358.3h0M532.1 358.6h0M532.1 358.2h0M532.7 357.1h0M533.7 357.5h0M533.0 355.7h0M533.8 356.8h0M533.9 355.7h0M534.5 354.6h0M534.2 352.5h0M535.6 350.5h0M535.5 347.9h0M535.5 345.0h0M536.2 339.9h0M536.5 334.8h0M536.5 325.9h0M537.0 320.5h0M537.2 323.1h0M536.6 328.4h0M537.2 331.4h0M538.4 334.1h0M537.9 335.2h0M539.0 338.9h0M538.0 341.6h0M538.8 341.3h0M539.6 344.2h0M540.0 345.2h0M540.2 347.1h0M539.7 347.4h0M540.6 348.4h0M540.1 349.5h0M540.7 348.2h0M541.0 349.5h0M541.6 349.8h0M541.4 351.3h0M542.1 351.0h0M542.7 351.3h0M543.1 352.0h0M542.7 351.9h0M543.1 353.7h0M543.9 353.2h0M544.1 352.9h0M543.7 354.0h0M543.9 353.9h0M544.4 354.8h0M545.0 354.8h0M545.3 355.8h0M545.6 354.8h0M546.2 355.9h0M545.9 355.5h0M546.0 356.5h0M546.6 355.8h0M547.2 356.2h0M546.7 356.4h0M547.4 357.2h0M548.2 358.3h0M547.8 353.5h0M548.1 349.8h0M548.3 343.3h0M549.2 337.5h0M549.3 331.1h0M548.9 327.8h0M549.1 329.6h0M549.8 330.2h0M549.8 333.3h0M549.9 338.1h0M550.5 340.9h0M550.4 343.6h0M551.2 344.2h0M551.3 345.0h0M551.6 346.4h0M552.1 347.5h0M552.3 347.9h0M552.6 348.9h0M553.1 348.4h0M553.6 349.7h0M553.5 349.7h0M553.9 350.3h0M554.2 351.7h0M554.9 351.5h0M555.2 351.0h0M555.0 351.7h0M554.5 351.3h0M555.5 351.7h0M556.1 352.1h0M556.2 352.2h0M556.5 354.0h0M557.0 354.2h0M556.2 354.2h0M556.8 353.5h0M557.7 353.5h0M557.3 354.3h0M557.4 353.1h0M558.6 354.5h0M558.0 353.2h0M559.4 353.4h0M559.2 353.4h0M558.9 355.3h0M559.4 354.9h0M559.9 354.9h0M560.7 353.8h0M561.1 354.6h0M561.3 354.9h0M560.4 355.1h0M561.9 353.7h0M562.0 355.2h0M561.7 355.6h0M562.3 355.3h0M562.5 354.0h0M562.8 355.9h0M562.4 355.6h0M563.3 354.9h0M564.0 355.2h0M563.9 354.1h0M564.3 353.0h0M564.2 351.9h0M565.1 350.0h0M565.2 348.9h0M565.9 346.0h0M565.4 342.7h0M566.3 340.5h0M565.7 339.1h0M566.7 335.3h0M566.2 329.7h0M567.2 322.3h0M567.6 322.9h0M567.4 324.9h0M567.8 328.4h0M567.7 332.3h0M567.9 336.8h0M568.1 339.3h0M569.2 340.1h0M568.9 342.0h0M569.5 344.6h0M570.2 345.5h0M569.4 346.7h0M570.2 346.2h0M571.0 346.9h0M571.4 347.9h0M571.0 348.1h0M571.8 349.6h0M572.2 349.7h0M571.7 349.6h0M571.8 349.7h0M572.8 350.7h0M572.8 350.4h0M573.7 351.3h0M573.7 351.8h0M574.1 351.6h0M573.4 351.4h0M574.2 352.9h0M574.6 352.7h0M575.0 352.5h0M575.1 352.7h0M575.0 353.5h0M576.0 353.7h0M575.3 354.3h0M575.7 353.2h0M576.4 352.7h0M576.2 354.2h0M577.4 354.4h0M577.6 354.5h0M577.8 351.5h0M577.5 351.0h0M577.9 349.1h0M578.9 346.5h0M578.2 342.7h0M578.5 340.4h0M579.7 335.6h0M579.2 332.9h0M580.1 329.8h0M579.8 326.4h0M580.0 329.1h0M580.8 333.5h0M581.4 336.4h0M580.9 338.4h0M581.3 341.9h0M581.4 344.0h0M582.3 345.4h0M582.9 346.2h0M582.4 346.6h0M583.2 347.3h0M583.3 348.9h0M583.6 349.6h0M583.2 350.2h0M584.0 351.1h0M583.8 350.3h0M584.2 351.2h0M584.9 350.9h0M584.7 350.9h0M585.2 350.8h0M585.3 352.8h0M585.5 351.8h0M586.5 352.9h0M586.9 352.2h0M586.3 352.1h0M587.4 352.4h0M587.6 352.6h0M587.4 353.0h0M588.3 352.9h0M588.7 353.7h0M588.5 354.6h0M588.8 354.3h0M589.6 354.7h0M588.9 354.1h0M589.8 355.9h0M589.8 355.3h0M589.8 354.1h0M590.1 355.9h0M590.7 355.5h0M590.4 354.6h0M591.5 354.4h0M591.6 354.9h0M592.2 355.7h0M592.0 354.8h0M592.6 356.2h0M592.8 355.6h0M593.4 356.4h0M592.7 355.9h0M593.7 355.1h0M593.7 356.3h0M593.7 356.1h0M594.2 353.9h0M595.2 353.1h0M594.4 350.5h0M595.7 348.4h0M594.9 347.0h0M595.7 342.8h0M596.1 340.8h0M596.9 336.5h0M597.1 334.0h0M597.5 330.9h0M597.5 325.6h0M597.7 319.2h0M598.3 323.4h0M598.2 326.6h0M598.2 330.3h0M599.1 334.7h0M599.2 339.7h0M598.6 343.0h0M599.2 343.6h0M599.9 345.8h0M600.0 345.5h0M600.3 347.8h0M600.3 348.2h0M601.1 348.2h0M601.3 348.2h0M602.0 350.2h0M601.8 350.0h0M602.3 351.6h0M602.2 351.9h0M602.9 350.8h0M603.0 350.9h0M603.4 351.5h0M603.3 352.4h0M603.3 352.2h0M603.9 353.5h0M603.6 353.6h0M604.0 351.6h0M605.3 352.4h0M605.0 352.2h0M605.0 353.8h0M605.2 352.4h0M605.9 351.7h0M605.7 352.6h0M606.4 352.4h0M606.3 352.5h0M607.4 351.3h0M607.6 352.0h0M607.6 349.6h0M608.0 348.0h0M608.0 347.4h0M608.6 344.1h0M608.4 342.0h0M609.3 338.2h0M609.6 336.6h0M610.0 332.5h0M609.4 329.1h0M609.4 323.8h0M610.7 320.2h0M610.3 322.8h0M610.4 324.4h0M611.3 329.0h0M611.4 333.2h0M612.3 337.0h0M612.3 342.8h0M612.8 343.6h0M612.3 344.0h0M613.1 346.2h0M613.4 347.1h0M612.9 347.0h0M614.1 348.5h0M613.7 348.6h0M613.8 350.0h0M614.6 349.2h0M615.1 350.4h0M615.6 349.7h0M615.3 350.6h0M615.5 350.3h0M616.5 351.6h0M615.7 351.2h0M617.0 353.0h0M616.8 352.4h0M617.0 353.6h0M617.2 352.9h0M617.3 352.6h0M617.3 353.0h0M618.5 353.3h0M617.9 354.3h0M619.2 353.3h0M618.7 354.7h0M619.7 353.1h0M619.7 353.5h0M619.5 355.0h0M620.2 353.7h0M620.4 353.4h0M620.6 354.6h0M621.2 355.0h0M621.6 354.6h0M621.1 353.6h0M621.4 353.8h0M622.5 355.1h0M622.2 355.1h0M623.2 354.9h0M623.4 354.7h0M622.5 354.4h0M623.1 353.6h0M623.8 354.0h0M623.7 354.8h0M623.8 354.8h0M624.3 352.5h0M625.0 350.1h0M625.2 346.4h0M625.1 344.6h0M625.8 340.5h0M625.6 338.7h0M626.4 336.4h0M626.4 333.4h0M626.4 328.6h0M627.0 325.5h0M627.8 326.8h0M627.5 329.8h0M628.0 333.7h0M628.2 335.0h0M629.0 337.8h0M628.2 341.1h0M629.3 341.9h0M629.1 344.8h0M629.1 347.0h0M630.0 348.2h0M630.3 350.2h0M629.9 350.4h0M630.8 351.2h0M630.8 352.5h0M631.6 353.7h0M632.2 353.7h0M631.4 354.7h0M632.2 355.0h0M631.8 354.9h0M633.1 354.2h0M633.6 355.3h0M633.3 356.7h0M633.7 355.8h0M634.2 355.5h0M633.9 356.4h0M634.2 355.0h0M634.2 354.1h0M635.3 354.2h0M635.3 354.1h0M635.4 355.7h0M635.5 355.6h0M635.6 354.0h0M636.2 353.4h0M636.8 354.6h0M636.3 353.2h0M637.0 352.6h0M636.8 353.5h0M638.0 352.3h0M637.4 351.6h0M637.7 350.6h0M638.0 348.3h0M638.8 344.9h0M638.8 340.0h0M639.3 336.6h0M639.5 331.4h0M639.7 326.0h0M640.6 323.0h0M640.9 326.1h0M640.6 326.9h0M641.0 331.4h0M640.8 335.1h0M641.6 338.8h0M641.9 340.9h0M642.0 344.0h0M642.4 347.5h0M642.3 349.3h0M643.1 351.5h0" stroke="#EA6D1F" stroke-width="4.00" stroke-linecap="round" fill="none"/>
<circle cx="238.7" cy="59.1" r="2.1" fill="#3261C8"/>
<text x="249.4" y="55.5" font-size="13.4" text-anchor="start" fill="#000" stroke="#000" >PNIPAAm</text>
<text x="249.4" y="72.2" font-size="13.4" text-anchor="start" fill="#000" stroke="#000" >15 °C</text>
<circle cx="233.2" cy="253.8" r="2.1" fill="#EA6D1F"/>
<text x="242.0" y="251.6" font-size="13.4" text-anchor="start" fill="#000" stroke="#000" >PNIPAAm</text>
<text x="242.0" y="268.3" font-size="13.4" text-anchor="start" fill="#000" stroke="#000" >25 °C</text>
<circle cx="580.9" cy="66.5" r="2.1" fill="#3261C8"/>
<text x="589.0" y="63.8" font-size="13.4" text-anchor="start" fill="#000" stroke="#000" >PAAm</text>
<text x="589.0" y="80.4" font-size="13.4" text-anchor="start" fill="#000" stroke="#000" >15 °C</text>
<circle cx="580.75" cy="249" r="2.1" fill="#EA6D1F"/>
<text x="593.5" y="247.6" font-size="13.4" text-anchor="start" fill="#000" stroke="#000" >PAAm</text>
<text x="593.5" y="264.2" font-size="13.4" text-anchor="start" fill="#000" stroke="#000" >20 °C</text>
<text x="25.6" y="15.8" font-size="19.0" text-anchor="start" fill="#000" stroke="#000" font-weight="bold" letter-spacing="0.7">(a)</text>
<text x="349.5" y="15.8" font-size="19.0" text-anchor="start" fill="#000" stroke="#000" font-weight="bold" letter-spacing="0.7">(b)</text>
<text x="22.3" y="433.4" font-size="19.0" text-anchor="start" fill="#000" stroke="#000" font-weight="bold" >(c)</text>
<text x="233.2" y="433.4" font-size="19.0" text-anchor="start" fill="#000" stroke="#000" font-weight="bold" >(d)</text>
<text x="452.0" y="433.4" font-size="19.0" text-anchor="start" fill="#000" stroke="#000" font-weight="bold" >(e)</text>
<text x="0.0" y="0.0" font-size="15.8" text-anchor="middle" fill="#000" stroke="#000" transform="translate(28.0,197.9) rotate(-90)">Hue [degree]</text>
<text x="0.0" y="0.0" font-size="15.8" text-anchor="middle" fill="#000" stroke="#000" transform="translate(358.6,193.4) rotate(-90)">Hue [degree]</text>
<text x="189.0" y="408.0" font-size="15.5" text-anchor="middle" fill="#000" stroke="#000" >Time <tspan font-style="italic">τ</tspan> [min]</text>
<text x="523.3" y="408.0" font-size="15.5" text-anchor="middle" fill="#000" stroke="#000" >Time <tspan font-style="italic">τ</tspan> [min]</text>
<g class="b">
<rect x="54.50" y="450.50" width="159.50" height="131.10" fill="none" stroke="#6e6e6e" stroke-width="1.00"/>
<line x1="54.50" y1="565.21" x2="57.00" y2="565.21" stroke="#555" stroke-width="1.00"/>
<line x1="54.50" y1="548.83" x2="57.00" y2="548.83" stroke="#555" stroke-width="1.00"/>
<line x1="54.50" y1="532.44" x2="57.00" y2="532.44" stroke="#555" stroke-width="1.00"/>
<line x1="54.50" y1="516.05" x2="57.00" y2="516.05" stroke="#555" stroke-width="1.00"/>
<line x1="54.50" y1="499.66" x2="57.00" y2="499.66" stroke="#555" stroke-width="1.00"/>
<line x1="54.50" y1="483.27" x2="57.00" y2="483.27" stroke="#555" stroke-width="1.00"/>
<line x1="54.50" y1="466.89" x2="57.00" y2="466.89" stroke="#555" stroke-width="1.00"/>
<line x1="94.38" y1="581.60" x2="94.38" y2="579.10" stroke="#555" stroke-width="1.00"/>
<line x1="134.25" y1="581.60" x2="134.25" y2="579.10" stroke="#555" stroke-width="1.00"/>
<line x1="174.12" y1="581.60" x2="174.12" y2="579.10" stroke="#555" stroke-width="1.00"/>
<text x="44.8" y="585.1" font-size="10.5" text-anchor="end" fill="#111" stroke="#111" >0</text>
<text x="44.8" y="552.3" font-size="10.5" text-anchor="end" fill="#111" stroke="#111" >1000</text>
<text x="44.8" y="519.5" font-size="10.5" text-anchor="end" fill="#111" stroke="#111" >2000</text>
<text x="44.8" y="486.8" font-size="10.5" text-anchor="end" fill="#111" stroke="#111" >3000</text>
<text x="44.8" y="454.0" font-size="10.5" text-anchor="end" fill="#111" stroke="#111" >4000</text>
<text x="54.5" y="598.2" font-size="10.5" text-anchor="middle" fill="#111" stroke="#111" >10</text>
<text x="94.4" y="598.2" font-size="10.5" text-anchor="middle" fill="#111" stroke="#111" >20</text>
<text x="134.2" y="598.2" font-size="10.5" text-anchor="middle" fill="#111" stroke="#111" >30</text>
<text x="174.1" y="598.2" font-size="10.5" text-anchor="middle" fill="#111" stroke="#111" >40</text>
<text x="214.0" y="598.2" font-size="10.5" text-anchor="middle" fill="#111" stroke="#111" >50</text>
<path d="M74.0 538.9V546.6M72.5 538.9h3M72.5 546.6h3" stroke="#808080" stroke-width="0.8" fill="none"/>
<path d="M94.2 537.2V543.0M92.7 537.2h3M92.7 543.0h3" stroke="#808080" stroke-width="0.8" fill="none"/>
<path d="M114.3 540.5V549.3M112.8 540.5h3M112.8 549.3h3" stroke="#808080" stroke-width="0.8" fill="none"/>
<path d="M134.5 548.4V555.6M133.0 548.4h3M133.0 555.6h3" stroke="#808080" stroke-width="0.8" fill="none"/>
<path d="M72.5 487.2h3M72.5 492.6h3" stroke="#808080" stroke-width="0.8"/>
<rect x="72.0" y="487.9" width="3.9" height="3.9" fill="#EA6D1F"/>
<rect x="92.2" y="544.3" width="3.9" height="3.9" fill="#EA6D1F"/>
<rect x="112.3" y="560.0" width="3.9" height="3.9" fill="#EA6D1F"/>
<rect x="132.6" y="566.8" width="3.9" height="3.9" fill="#EA6D1F"/>
<rect x="152.2" y="570.6" width="3.9" height="3.9" fill="#EA6D1F"/>
<rect x="172.2" y="573.4" width="3.9" height="3.9" fill="#EA6D1F"/>
<circle cx="74.0" cy="542.8" r="2.0" fill="#3261C8"/>
<circle cx="94.2" cy="540.1" r="2.0" fill="#3261C8"/>
<circle cx="114.3" cy="544.9" r="2.0" fill="#3261C8"/>
<circle cx="134.5" cy="552.1" r="2.0" fill="#3261C8"/>
<rect x="150.8" y="465.5" width="4" height="4" fill="#EA6D1F"/>
<text x="161.2" y="469.8" font-size="10.8" text-anchor="start" fill="#111" stroke="#111" >PAAm</text>
<circle cx="152.6" cy="484.6" r="1.9" fill="#3261C8"/>
<text x="161.2" y="486.2" font-size="10.8" text-anchor="start" fill="#111" stroke="#111" >PNIPAAm</text>
<text x="0.0" y="0.0" font-size="13.5" text-anchor="middle" fill="#000" stroke="#000" transform="translate(13.3,511.5) rotate(-90)">Δ<tspan font-style="italic">τ</tspan> [s]</text>
<text x="134.8" y="616.0" font-size="14.0" text-anchor="middle" fill="#000" stroke="#000" ><tspan font-style="italic">T</tspan> [°C]</text>
<rect x="270.50" y="458.60" width="170.00" height="123.50" fill="none" stroke="#6e6e6e" stroke-width="1.00"/>
<line x1="270.50" y1="564.46" x2="273.50" y2="564.46" stroke="#555" stroke-width="1.00"/>
<line x1="270.50" y1="546.81" x2="273.50" y2="546.81" stroke="#555" stroke-width="1.00"/>
<line x1="270.50" y1="529.17" x2="273.50" y2="529.17" stroke="#555" stroke-width="1.00"/>
<line x1="270.50" y1="511.53" x2="273.50" y2="511.53" stroke="#555" stroke-width="1.00"/>
<line x1="270.50" y1="493.89" x2="273.50" y2="493.89" stroke="#555" stroke-width="1.00"/>
<line x1="270.50" y1="476.24" x2="273.50" y2="476.24" stroke="#555" stroke-width="1.00"/>
<line x1="294.79" y1="582.10" x2="294.79" y2="579.10" stroke="#555" stroke-width="1.00"/>
<line x1="319.07" y1="582.10" x2="319.07" y2="579.10" stroke="#555" stroke-width="1.00"/>
<line x1="343.36" y1="582.10" x2="343.36" y2="579.10" stroke="#555" stroke-width="1.00"/>
<line x1="367.64" y1="582.10" x2="367.64" y2="579.10" stroke="#555" stroke-width="1.00"/>
<line x1="391.93" y1="582.10" x2="391.93" y2="579.10" stroke="#555" stroke-width="1.00"/>
<line x1="416.21" y1="582.10" x2="416.21" y2="579.10" stroke="#555" stroke-width="1.00"/>
<text x="261.0" y="585.6" font-size="10.5" text-anchor="end" fill="#111" stroke="#111" >0</text>
<text x="261.0" y="568.0" font-size="10.5" text-anchor="end" fill="#111" stroke="#111" >0.2</text>
<text x="261.0" y="550.3" font-size="10.5" text-anchor="end" fill="#111" stroke="#111" >0.4</text>
<text x="261.0" y="532.7" font-size="10.5" text-anchor="end" fill="#111" stroke="#111" >0.6</text>
<text x="261.0" y="515.0" font-size="10.5" text-anchor="end" fill="#111" stroke="#111" >0.8</text>
<text x="261.0" y="497.4" font-size="10.5" text-anchor="end" fill="#111" stroke="#111" >1</text>
<text x="261.0" y="479.7" font-size="10.5" text-anchor="end" fill="#111" stroke="#111" >1.2</text>
<text x="261.0" y="462.1" font-size="10.5" text-anchor="end" fill="#111" stroke="#111" >1.4</text>
<text x="270.5" y="598.2" font-size="10.5" text-anchor="middle" fill="#111" stroke="#111" >10</text>
<text x="294.8" y="598.2" font-size="10.5" text-anchor="middle" fill="#111" stroke="#111" >15</text>
<text x="319.1" y="598.2" font-size="10.5" text-anchor="middle" fill="#111" stroke="#111" >20</text>
<text x="343.4" y="598.2" font-size="10.5" text-anchor="middle" fill="#111" stroke="#111" >25</text>
<text x="367.6" y="598.2" font-size="10.5" text-anchor="middle" fill="#111" stroke="#111" >30</text>
<text x="391.9" y="598.2" font-size="10.5" text-anchor="middle" fill="#111" stroke="#111" >35</text>
<text x="416.2" y="598.2" font-size="10.5" text-anchor="middle" fill="#111" stroke="#111" >40</text>
<text x="440.5" y="598.2" font-size="10.5" text-anchor="middle" fill="#111" stroke="#111" >45</text>
<rect x="292.6" y="488.6" width="3.9" height="3.9" fill="#EA6D1F"/>
<rect x="317.1" y="488.6" width="3.9" height="3.9" fill="#EA6D1F"/>
<rect x="340.7" y="488.6" width="3.9" height="3.9" fill="#EA6D1F"/>
<rect x="365.2" y="488.6" width="3.9" height="3.9" fill="#EA6D1F"/>
<rect x="389.4" y="488.6" width="3.9" height="3.9" fill="#EA6D1F"/>
<rect x="414.1" y="488.6" width="3.9" height="3.9" fill="#EA6D1F"/>
<circle cx="294.5" cy="472.5" r="2.0" fill="#3261C8"/>
<circle cx="319.0" cy="488.1" r="2.0" fill="#3261C8"/>
<circle cx="342.6" cy="504.3" r="2.0" fill="#3261C8"/>
<circle cx="367.1" cy="528.1" r="2.0" fill="#3261C8"/>
<circle cx="391.4" cy="529.5" r="2.0" fill="#3261C8"/>
<circle cx="416.0" cy="535.1" r="2.0" fill="#3261C8"/>
<rect x="295.2" y="548" width="3.7" height="3.7" fill="#EA6D1F"/>
<text x="306.0" y="554.0" font-size="10.8" text-anchor="start" fill="#111" stroke="#111" >PAAm</text>
<circle cx="296.8" cy="567.2" r="1.9" fill="#3261C8"/>
<text x="306.0" y="571.2" font-size="10.8" text-anchor="start" fill="#111" stroke="#111" >PNIPAAm</text>
<text x="0.0" y="0.0" font-size="15.0" text-anchor="middle" fill="#000" stroke="#000" transform="translate(240.6,513.3) rotate(-90)" textLength="27" lengthAdjust="spacing"><tspan font-style="italic">d</tspan> / <tspan font-style="italic">d</tspan><tspan font-size="10" dy="2.5">0</tspan></text>
<text x="355.0" y="616.0" font-size="14.0" text-anchor="middle" fill="#000" stroke="#000" ><tspan font-style="italic">T</tspan> [°C]</text>
<rect x="499.50" y="461.50" width="170.00" height="115.50" fill="none" stroke="#6e6e6e" stroke-width="1.00"/>
<line x1="499.50" y1="548.12" x2="502.50" y2="548.12" stroke="#555" stroke-width="1.00"/>
<line x1="499.50" y1="519.25" x2="502.50" y2="519.25" stroke="#555" stroke-width="1.00"/>
<line x1="499.50" y1="490.38" x2="502.50" y2="490.38" stroke="#555" stroke-width="1.00"/>
<line x1="542.00" y1="577.00" x2="542.00" y2="574.00" stroke="#555" stroke-width="1.00"/>
<line x1="584.50" y1="577.00" x2="584.50" y2="574.00" stroke="#555" stroke-width="1.00"/>
<line x1="627.00" y1="577.00" x2="627.00" y2="574.00" stroke="#555" stroke-width="1.00"/>
<text x="490.4" y="580.5" font-size="10.5" text-anchor="end" fill="#111" stroke="#111" >200</text>
<text x="490.4" y="551.6" font-size="10.5" text-anchor="end" fill="#111" stroke="#111" >400</text>
<text x="490.4" y="522.8" font-size="10.5" text-anchor="end" fill="#111" stroke="#111" >800</text>
<text x="490.4" y="493.9" font-size="10.5" text-anchor="end" fill="#111" stroke="#111" >1600</text>
<text x="490.4" y="465.0" font-size="10.5" text-anchor="end" fill="#111" stroke="#111" >3200</text>
<text x="499.5" y="593.3" font-size="10.5" text-anchor="middle" fill="#111" stroke="#111" >0.0032</text>
<text x="542.0" y="593.3" font-size="10.5" text-anchor="middle" fill="#111" stroke="#111" >0.0033</text>
<text x="584.5" y="593.3" font-size="10.5" text-anchor="middle" fill="#111" stroke="#111" >0.0034</text>
<text x="627.0" y="593.3" font-size="10.5" text-anchor="middle" fill="#111" stroke="#111" >0.0035</text>
<text x="669.5" y="593.3" font-size="10.5" text-anchor="middle" fill="#111" stroke="#111" >0.0036</text>
<line x1="499.5" y1="529" x2="669.5" y2="484.2" stroke="#3261C8" stroke-width="1" stroke-dasharray="1 1.1" opacity="0.85"/>
<path d="M540.9 518.5V527.4M539.4 518.5h3M539.4 527.4h3" stroke="#808080" stroke-width="0.8" fill="none"/>
<circle cx="540.9" cy="523.0" r="2.0" fill="#3261C8"/>
<path d="M564.5 502.5V513.2M563.0 502.5h3M563.0 513.2h3" stroke="#808080" stroke-width="0.8" fill="none"/>
<circle cx="564.5" cy="507.3" r="2.0" fill="#3261C8"/>
<path d="M588.9 498.5V504.9M587.4 498.5h3M587.4 504.9h3" stroke="#808080" stroke-width="0.8" fill="none"/>
<circle cx="588.9" cy="500.9" r="2.0" fill="#3261C8"/>
<path d="M614.0 500.1V508.1M612.5 500.1h3M612.5 508.1h3" stroke="#808080" stroke-width="0.8" fill="none"/>
<circle cx="614.0" cy="503.4" r="2.0" fill="#3261C8"/>
<g transform="translate(462.6,0) rotate(-90)"><text fill="#000" stroke="#000" stroke-width="0.25"><tspan x="-553.8" y="0.0" font-size="14.5">Δ</tspan><tspan x="-543.6" y="0.0" font-size="15.0" font-style="italic">τ</tspan><tspan x="-535.0" y="0.0" font-size="15.0">×</tspan><tspan x="-524.6" y="0.0" font-size="15.0">(</tspan><tspan x="-517.6" y="0.0" font-size="13.5">1</tspan><tspan x="-492.0" y="0.3" font-size="15.0" font-style="italic">ϕ</tspan><tspan x="-484.0" y="0.0" font-size="15.0">)</tspan></text><line x1="-506.4" y1="-4.2" x2="-499" y2="-4.2" stroke="#000" stroke-width="0.9"/></g>
<text x="555.0" y="618.9" font-size="14.0" text-anchor="start" fill="#000" stroke="#000" font-style="italic" >T</text>
<line x1="565.2" y1="611.2" x2="570.4" y2="611.2" stroke="#000" stroke-width="1.1"/>
<text x="571.3" y="614.0" font-size="9.0" text-anchor="start" fill="#000" stroke="#000" >1</text>
<text x="581.4" y="618.9" font-size="14.0" text-anchor="start" fill="#000" stroke="#000" >[K</text>
<line x1="594.6" y1="611.2" x2="599.3" y2="611.2" stroke="#000" stroke-width="1.1"/>
<text x="600.7" y="614.0" font-size="9.0" text-anchor="start" fill="#000" stroke="#000" >1</text>
<text x="608.2" y="618.9" font-size="14.0" text-anchor="start" fill="#000" stroke="#000" >]</text>
</g>
</svg>
</body></html>
